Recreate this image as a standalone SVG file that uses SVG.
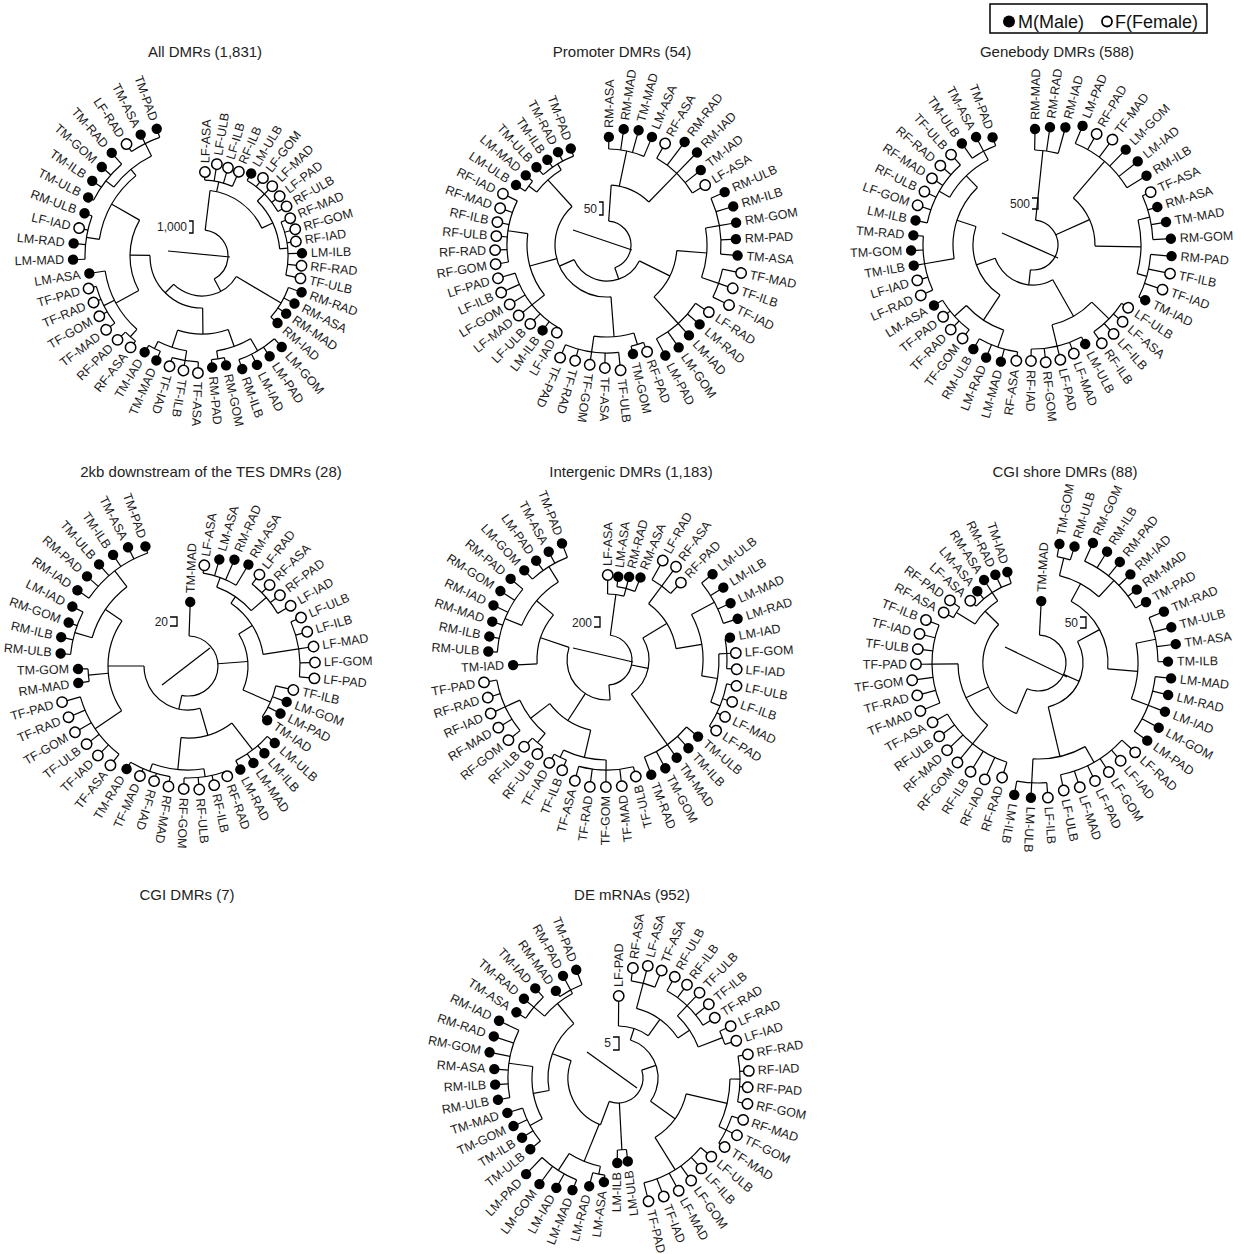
<svg xmlns="http://www.w3.org/2000/svg" width="1244" height="1254" viewBox="0 0 1244 1254">
<style>
.t{font-family:"Liberation Sans",Arial,sans-serif;font-size:15px;fill:#222;text-anchor:middle}
.sc{font-family:"Liberation Sans",Arial,sans-serif;font-size:12px;fill:#222;text-anchor:end}
.lg{font-family:"Liberation Sans",Arial,sans-serif;font-size:18px;fill:#111}
.lb text{font-family:"Liberation Sans",Arial,sans-serif;font-size:12.5px;fill:#1a1a1a;dominant-baseline:central}
.lb text.fl{text-anchor:end}
.lb circle{r:5.2px}
.m{fill:#000}
.f{fill:#fff;stroke:#000;stroke-width:1.5}
.c path,.c circle{fill:none;stroke:#000;stroke-width:1.2}
.sb{fill:none;stroke:#000;stroke-width:1.3}
</style>
<rect width="1244" height="1254" fill="#fff"/>
<g id="legend">
<rect x="990" y="4" width="217" height="29" fill="none" stroke="#000" stroke-width="1.5"/>
<circle cx="1009" cy="21.5" r="6" fill="#000"/>
<text class="lg" x="1018" y="28">M(Male)</text>
<circle cx="1107" cy="21.5" r="5" fill="#fff" stroke="#000" stroke-width="1.8"/>
<text class="lg" x="1115" y="28">F(Female)</text>
</g>
<g id="titles">
<text class="t" x="205" y="57">All DMRs (1,831)</text>
<text class="t" x="622" y="57">Promoter DMRs (54)</text>
<text class="t" x="1057" y="57">Genebody DMRs (588)</text>
<text class="t" x="211" y="477">2kb downstream of the TES DMRs (28)</text>
<text class="t" x="631" y="477">Intergenic DMRs (1,183)</text>
<text class="t" x="1065" y="477">CGI shore DMRs (88)</text>
<text class="t" x="187" y="900">CGI DMRs (7)</text>
<text class="t" x="632" y="900">DE mRNAs (952)</text>
</g>
<g id="scalebars">
<text class="sc" x="187" y="231">1,000</text><path class="sb" d="M189 221H193V233H189"/>
<text class="sc" x="597" y="213">50</text><path class="sb" d="M599 202H603V215H599"/>
<text class="sc" x="1030" y="208">500</text><path class="sb" d="M1032 198H1038V209H1032"/>
<text class="sc" x="168" y="626">20</text><path class="sb" d="M170 617H177V626H170"/>
<text class="sc" x="592" y="627">200</text><path class="sb" d="M594 617H600V627H594"/>
<text class="sc" x="1078" y="627">50</text><path class="sb" d="M1080 617H1086V628H1080"/>
<text class="sc" x="611" y="1047">5</text><path class="sb" d="M613 1037H619V1050H613"/>
</g>
<g id="connectors" class="c">
<g transform="translate(202 256)"><path d="M-34 -5L28 1"/><g transform="rotate(-88)">
<circle r="26" pathLength="360" stroke-dasharray="145 360" transform="rotate(5)"/>
<path transform="rotate(5)" d="M26 0H66"/><path transform="rotate(150)" d="M26 0H40"/>
<circle r="66" pathLength="360" stroke-dasharray="58 360" transform="rotate(5)"/>
<path transform="rotate(10.8)" d="M66 0H76"/><path transform="rotate(63)" d="M66 0H78"/>
<circle r="76" pathLength="360" stroke-dasharray="21.6 360" transform="rotate(0)"/>
<path transform="rotate(0)" d="M76 0H79.5"/><path transform="rotate(7.2)" d="M76 0H88.5"/><path transform="rotate(14.4)" d="M76 0H87.5"/><path transform="rotate(21.6)" d="M76 0H87.5"/>
<circle r="78" pathLength="360" stroke-dasharray="39.6 360" transform="rotate(43.2)"/>
<path transform="rotate(43.2)" d="M78 0H88"/><path transform="rotate(82.8)" d="M78 0H86"/>
<circle r="88" pathLength="360" stroke-dasharray="28.8 360" transform="rotate(28.8)"/>
<path transform="rotate(28.8)" d="M88 0H91.5"/><path transform="rotate(36)" d="M88 0H94.5"/><path transform="rotate(43.2)" d="M88 0H94.5"/><path transform="rotate(50.4)" d="M88 0H93.5"/><path transform="rotate(57.6)" d="M88 0H93.5"/>
<circle r="86" pathLength="360" stroke-dasharray="36 360" transform="rotate(64.8)"/>
<path transform="rotate(64.8)" d="M86 0H91.5"/><path transform="rotate(72)" d="M86 0H92.5"/><path transform="rotate(79.2)" d="M86 0H90.5"/><path transform="rotate(86.4)" d="M86 0H95.5"/><path transform="rotate(93.6)" d="M86 0H95.5"/><path transform="rotate(100.8)" d="M86 0H96.5"/>
<circle r="40" pathLength="360" stroke-dasharray="104.2 360" transform="rotate(118.8)"/>
<path transform="rotate(118.8)" d="M40 0H92"/><path transform="rotate(223)" d="M40 0H52"/>
<circle r="92" pathLength="360" stroke-dasharray="21.6 360" transform="rotate(108)"/>
<path transform="rotate(108)" d="M92 0H101.5"/><path transform="rotate(115.2)" d="M92 0H99.5"/><path transform="rotate(122.4)" d="M92 0H97.5"/><path transform="rotate(129.6)" d="M92 0H96.5"/>
<circle r="52" pathLength="360" stroke-dasharray="91.35 360" transform="rotate(177.3)"/>
<path transform="rotate(177.3)" d="M52 0H78"/><path transform="rotate(268.65)" d="M52 0H72"/>
<circle r="78" pathLength="360" stroke-dasharray="37.8 360" transform="rotate(158.4)"/>
<path transform="rotate(158.4)" d="M78 0H96"/><path transform="rotate(196.2)" d="M78 0H96"/>
<circle r="96" pathLength="360" stroke-dasharray="21.6 360" transform="rotate(147.6)"/>
<path transform="rotate(147.6)" d="M96 0H110"/><path transform="rotate(169.2)" d="M96 0H104"/>
<circle r="110" pathLength="360" stroke-dasharray="21.6 360" transform="rotate(136.8)"/>
<path transform="rotate(136.8)" d="M110 0H116.5"/><path transform="rotate(144)" d="M110 0H116.5"/><path transform="rotate(151.2)" d="M110 0H117.5"/><path transform="rotate(158.4)" d="M110 0H115.5"/>
<circle r="104" pathLength="360" stroke-dasharray="7.2 360" transform="rotate(165.6)"/>
<path transform="rotate(165.6)" d="M104 0H107.5"/><path transform="rotate(172.8)" d="M104 0H107.5"/>
<circle r="96" pathLength="360" stroke-dasharray="18 360" transform="rotate(187.2)"/>
<path transform="rotate(187.2)" d="M96 0H106"/><path transform="rotate(205.2)" d="M96 0H104"/>
<circle r="106" pathLength="360" stroke-dasharray="14.4 360" transform="rotate(180)"/>
<path transform="rotate(180)" d="M106 0H112.5"/><path transform="rotate(187.2)" d="M106 0H111.5"/><path transform="rotate(194.4)" d="M106 0H110.5"/>
<circle r="104" pathLength="360" stroke-dasharray="7.2 360" transform="rotate(201.6)"/>
<path transform="rotate(201.6)" d="M104 0H109.5"/><path transform="rotate(208.8)" d="M104 0H107.5"/>
<circle r="72" pathLength="360" stroke-dasharray="58.5 360" transform="rotate(239.4)"/>
<path transform="rotate(239.4)" d="M72 0H98"/><path transform="rotate(297.9)" d="M72 0H104"/>
<circle r="98" pathLength="360" stroke-dasharray="39.6 360" transform="rotate(219.6)"/>
<path transform="rotate(219.6)" d="M98 0H108"/><path transform="rotate(241.2)" d="M98 0H110"/><path transform="rotate(259.2)" d="M98 0H109.5"/>
<circle r="108" pathLength="360" stroke-dasharray="7.2 360" transform="rotate(216)"/>
<path transform="rotate(216)" d="M108 0H111.5"/><path transform="rotate(223.2)" d="M108 0H114.5"/>
<circle r="110" pathLength="360" stroke-dasharray="21.6 360" transform="rotate(230.4)"/>
<path transform="rotate(230.4)" d="M110 0H116.5"/><path transform="rotate(237.6)" d="M110 0H114.5"/><path transform="rotate(244.8)" d="M110 0H113.5"/><path transform="rotate(252)" d="M110 0H113.5"/>
<circle r="104" pathLength="360" stroke-dasharray="41.4 360" transform="rotate(277.2)"/>
<path transform="rotate(277.2)" d="M104 0H117"/><path transform="rotate(318.6)" d="M104 0H112"/>
<circle r="117" pathLength="360" stroke-dasharray="21.6 360" transform="rotate(266.4)"/>
<path transform="rotate(266.4)" d="M117 0H124.5"/><path transform="rotate(273.6)" d="M117 0H124.5"/><path transform="rotate(280.8)" d="M117 0H121.5"/><path transform="rotate(288)" d="M117 0H120.5"/>
<circle r="112" pathLength="360" stroke-dasharray="25.2 360" transform="rotate(306)"/>
<path transform="rotate(306)" d="M112 0H122"/><path transform="rotate(331.2)" d="M112 0H126"/>
<circle r="122" pathLength="360" stroke-dasharray="21.6 360" transform="rotate(295.2)"/>
<path transform="rotate(295.2)" d="M122 0H123.5"/><path transform="rotate(302.4)" d="M122 0H128.5"/><path transform="rotate(309.6)" d="M122 0H129.5"/><path transform="rotate(316.8)" d="M122 0H132.5"/>
<circle r="126" pathLength="360" stroke-dasharray="14.4 360" transform="rotate(324)"/>
<path transform="rotate(324)" d="M126 0H130.5"/><path transform="rotate(331.2)" d="M126 0H131.5"/><path transform="rotate(338.4)" d="M126 0H130.5"/>
</g></g>
<g transform="translate(607 245)"><path d="M-34 -15L25 5"/><g transform="rotate(-89)">
<circle r="24" pathLength="360" stroke-dasharray="157 360" transform="rotate(3)"/>
<path transform="rotate(3)" d="M24 0H60"/><path transform="rotate(160)" d="M24 0H36"/>
<circle r="60" pathLength="360" stroke-dasharray="40.2 360" transform="rotate(3)"/>
<path transform="rotate(10.8)" d="M60 0H96"/><path transform="rotate(43.2)" d="M60 0H100"/>
<circle r="96" pathLength="360" stroke-dasharray="21.6 360" transform="rotate(0)"/>
<path transform="rotate(0)" d="M96 0H103.5"/><path transform="rotate(7.2)" d="M96 0H112.5"/><path transform="rotate(14.4)" d="M96 0H114.5"/><path transform="rotate(21.6)" d="M96 0H112.5"/>
<circle r="100" pathLength="360" stroke-dasharray="28.8 360" transform="rotate(28.8)"/>
<path transform="rotate(28.8)" d="M100 0H112.5"/><path transform="rotate(36)" d="M100 0H124.5"/><path transform="rotate(43.2)" d="M100 0H124.5"/><path transform="rotate(50.4)" d="M100 0H115.5"/><path transform="rotate(57.6)" d="M100 0H110.5"/>
<circle r="36" pathLength="360" stroke-dasharray="129.8 360" transform="rotate(115.2)"/>
<path transform="rotate(115.2)" d="M36 0H70"/><path transform="rotate(245)" d="M36 0H52"/>
<circle r="70" pathLength="360" stroke-dasharray="43.2 360" transform="rotate(93.6)"/>
<path transform="rotate(93.6)" d="M70 0H100"/><path transform="rotate(136.8)" d="M70 0H106"/>
<circle r="100" pathLength="360" stroke-dasharray="28.8 360" transform="rotate(79.2)"/>
<path transform="rotate(79.2)" d="M100 0H114"/><path transform="rotate(108)" d="M100 0H118"/>
<circle r="114" pathLength="360" stroke-dasharray="28.8 360" transform="rotate(64.8)"/>
<path transform="rotate(64.8)" d="M114 0H124.5"/><path transform="rotate(72)" d="M114 0H127.5"/><path transform="rotate(79.2)" d="M114 0H126.5"/><path transform="rotate(86.4)" d="M114 0H124.5"/><path transform="rotate(93.6)" d="M114 0H126.5"/>
<circle r="118" pathLength="360" stroke-dasharray="14.4 360" transform="rotate(100.8)"/>
<path transform="rotate(100.8)" d="M118 0H132.5"/><path transform="rotate(108)" d="M118 0H128.5"/><path transform="rotate(115.2)" d="M118 0H131.5"/>
<circle r="106" pathLength="360" stroke-dasharray="28.8 360" transform="rotate(122.4)"/>
<path transform="rotate(122.4)" d="M106 0H117.5"/><path transform="rotate(129.6)" d="M106 0H117.5"/><path transform="rotate(136.8)" d="M106 0H117.5"/><path transform="rotate(144)" d="M106 0H120.5"/><path transform="rotate(151.2)" d="M106 0H120.5"/>
<circle r="52" pathLength="360" stroke-dasharray="142.2 360" transform="rotate(174.6)"/>
<path transform="rotate(174.6)" d="M52 0H92"/><path transform="rotate(253.8)" d="M52 0H80"/><path transform="rotate(316.8)" d="M52 0H88"/>
<circle r="92" pathLength="360" stroke-dasharray="25.2 360" transform="rotate(162)"/>
<path transform="rotate(162)" d="M92 0H104"/><path transform="rotate(187.2)" d="M92 0H108"/>
<circle r="104" pathLength="360" stroke-dasharray="7.2 360" transform="rotate(158.4)"/>
<path transform="rotate(158.4)" d="M104 0H109.5"/><path transform="rotate(165.6)" d="M104 0H107.5"/>
<circle r="108" pathLength="360" stroke-dasharray="28.8 360" transform="rotate(172.8)"/>
<path transform="rotate(172.8)" d="M108 0H121.5"/><path transform="rotate(180)" d="M108 0H118.5"/><path transform="rotate(187.2)" d="M108 0H116.5"/><path transform="rotate(194.4)" d="M108 0H115.5"/><path transform="rotate(201.6)" d="M108 0H117.5"/>
<circle r="80" pathLength="360" stroke-dasharray="46.8 360" transform="rotate(230.4)"/>
<path transform="rotate(230.4)" d="M80 0H96"/><path transform="rotate(277.2)" d="M80 0H100"/>
<circle r="96" pathLength="360" stroke-dasharray="43.2 360" transform="rotate(208.8)"/>
<path transform="rotate(208.8)" d="M96 0H96.5"/><path transform="rotate(216)" d="M96 0H102.5"/><path transform="rotate(223.2)" d="M96 0H105.5"/><path transform="rotate(230.4)" d="M96 0H108.5"/><path transform="rotate(237.6)" d="M96 0H109.5"/><path transform="rotate(244.8)" d="M96 0H111.5"/><path transform="rotate(252)" d="M96 0H109.5"/>
<circle r="100" pathLength="360" stroke-dasharray="36 360" transform="rotate(259.2)"/>
<path transform="rotate(259.2)" d="M100 0H108.5"/><path transform="rotate(266.4)" d="M100 0H107.5"/><path transform="rotate(273.6)" d="M100 0H106.5"/><path transform="rotate(280.8)" d="M100 0H107.5"/><path transform="rotate(288)" d="M100 0H108.5"/><path transform="rotate(295.2)" d="M100 0H111.5"/>
<circle r="88" pathLength="360" stroke-dasharray="21.6 360" transform="rotate(306)"/>
<path transform="rotate(306)" d="M88 0H98"/><path transform="rotate(327.6)" d="M88 0H95"/>
<circle r="98" pathLength="360" stroke-dasharray="7.2 360" transform="rotate(302.4)"/>
<path transform="rotate(302.4)" d="M98 0H104.5"/><path transform="rotate(309.6)" d="M98 0H102.5"/>
<circle r="95" pathLength="360" stroke-dasharray="21.6 360" transform="rotate(316.8)"/>
<path transform="rotate(316.8)" d="M95 0H100.5"/><path transform="rotate(324)" d="M95 0H99.5"/><path transform="rotate(331.2)" d="M95 0H100.5"/><path transform="rotate(338.4)" d="M95 0H98.5"/>
</g></g>
<g transform="translate(1033 245)"><path d="M-31 -12L25 13"/><g transform="rotate(-89)">
<circle r="25" pathLength="360" stroke-dasharray="180 360" transform="rotate(5)"/>
<path transform="rotate(5)" d="M25 0H95"/><path transform="rotate(64.8)" d="M25 0H62"/><path transform="rotate(185)" d="M25 0H40"/>
<circle r="95" pathLength="360" stroke-dasharray="14.4 360" transform="rotate(0)"/>
<path transform="rotate(0)" d="M95 0H111.5"/><path transform="rotate(7.2)" d="M95 0H114.5"/><path transform="rotate(14.4)" d="M95 0H117.5"/>
<circle r="62" pathLength="360" stroke-dasharray="50.4 360" transform="rotate(39.6)"/>
<path transform="rotate(39.6)" d="M62 0H110"/><path transform="rotate(90)" d="M62 0H108"/>
<circle r="110" pathLength="360" stroke-dasharray="36 360" transform="rotate(21.6)"/>
<path transform="rotate(21.6)" d="M110 0H124.5"/><path transform="rotate(28.8)" d="M110 0H123.5"/><path transform="rotate(36)" d="M110 0H127.5"/><path transform="rotate(43.2)" d="M110 0H128.5"/><path transform="rotate(50.4)" d="M110 0H129.5"/><path transform="rotate(57.6)" d="M110 0H128.5"/>
<circle r="108" pathLength="360" stroke-dasharray="28.8 360" transform="rotate(75.6)"/>
<path transform="rotate(75.6)" d="M108 0H120"/><path transform="rotate(104.4)" d="M108 0H118"/>
<circle r="120" pathLength="360" stroke-dasharray="21.6 360" transform="rotate(64.8)"/>
<path transform="rotate(64.8)" d="M120 0H124.5"/><path transform="rotate(72)" d="M120 0H125.5"/><path transform="rotate(79.2)" d="M120 0H130.5"/><path transform="rotate(86.4)" d="M120 0H133.5"/>
<circle r="118" pathLength="360" stroke-dasharray="21.6 360" transform="rotate(93.6)"/>
<path transform="rotate(93.6)" d="M118 0H134.5"/><path transform="rotate(100.8)" d="M118 0H135.5"/><path transform="rotate(108)" d="M118 0H132.5"/><path transform="rotate(115.2)" d="M118 0H120.5"/>
<circle r="40" pathLength="360" stroke-dasharray="100.3 360" transform="rotate(149.4)"/>
<path transform="rotate(149.4)" d="M40 0H82"/><path transform="rotate(249.7)" d="M40 0H60"/>
<circle r="82" pathLength="360" stroke-dasharray="32.4 360" transform="rotate(133.2)"/>
<path transform="rotate(133.2)" d="M82 0H106"/><path transform="rotate(165.6)" d="M82 0H104"/>
<circle r="106" pathLength="360" stroke-dasharray="21.6 360" transform="rotate(122.4)"/>
<path transform="rotate(122.4)" d="M106 0H109.5"/><path transform="rotate(129.6)" d="M106 0H113.5"/><path transform="rotate(136.8)" d="M106 0H115.5"/><path transform="rotate(144)" d="M106 0H115.5"/>
<circle r="104" pathLength="360" stroke-dasharray="28.8 360" transform="rotate(151.2)"/>
<path transform="rotate(151.2)" d="M104 0H107.5"/><path transform="rotate(158.4)" d="M104 0H111.5"/><path transform="rotate(165.6)" d="M104 0H113.5"/><path transform="rotate(172.8)" d="M104 0H113.5"/><path transform="rotate(180)" d="M104 0H111.5"/>
<circle r="60" pathLength="360" stroke-dasharray="74.6 360" transform="rotate(212.4)"/>
<path transform="rotate(212.4)" d="M60 0H90"/><path transform="rotate(287)" d="M60 0H80"/>
<circle r="90" pathLength="360" stroke-dasharray="28.8 360" transform="rotate(198)"/>
<path transform="rotate(198)" d="M90 0H108"/><path transform="rotate(226.8)" d="M90 0H106"/>
<circle r="108" pathLength="360" stroke-dasharray="21.6 360" transform="rotate(187.2)"/>
<path transform="rotate(187.2)" d="M108 0H112.5"/><path transform="rotate(194.4)" d="M108 0H116.5"/><path transform="rotate(201.6)" d="M108 0H117.5"/><path transform="rotate(208.8)" d="M108 0H115.5"/>
<circle r="106" pathLength="360" stroke-dasharray="21.6 360" transform="rotate(216)"/>
<path transform="rotate(216)" d="M106 0H112.5"/><path transform="rotate(223.2)" d="M106 0H113.5"/><path transform="rotate(230.4)" d="M106 0H110.5"/><path transform="rotate(237.6)" d="M106 0H111.5"/>
<circle r="80" pathLength="360" stroke-dasharray="55.8 360" transform="rotate(259.2)"/>
<path transform="rotate(259.2)" d="M80 0H110"/><path transform="rotate(315)" d="M80 0H96"/>
<circle r="110" pathLength="360" stroke-dasharray="28.8 360" transform="rotate(244.8)"/>
<path transform="rotate(244.8)" d="M110 0H118.5"/><path transform="rotate(252)" d="M110 0H116.5"/><path transform="rotate(259.2)" d="M110 0H116.5"/><path transform="rotate(266.4)" d="M110 0H117.5"/><path transform="rotate(273.6)" d="M110 0H115.5"/>
<circle r="96" pathLength="360" stroke-dasharray="32.4 360" transform="rotate(298.8)"/>
<path transform="rotate(298.8)" d="M96 0H108"/><path transform="rotate(331.2)" d="M96 0H106"/>
<circle r="108" pathLength="360" stroke-dasharray="36 360" transform="rotate(280.8)"/>
<path transform="rotate(280.8)" d="M108 0H115.5"/><path transform="rotate(288)" d="M108 0H117.5"/><path transform="rotate(295.2)" d="M108 0H116.5"/><path transform="rotate(302.4)" d="M108 0H116.5"/><path transform="rotate(309.6)" d="M108 0H117.5"/><path transform="rotate(316.8)" d="M108 0H117.5"/>
<circle r="106" pathLength="360" stroke-dasharray="14.4 360" transform="rotate(324)"/>
<path transform="rotate(324)" d="M106 0H119.5"/><path transform="rotate(331.2)" d="M106 0H117.5"/><path transform="rotate(338.4)" d="M106 0H110.5"/>
</g></g>
<g transform="translate(188 666)"><path d="M-26 19L22 -18"/><g transform="rotate(-88)">
<circle r="30" pathLength="360" stroke-dasharray="190 360" transform="rotate(0)"/>
<path transform="rotate(0)" d="M30 0H59.5"/><path transform="rotate(83.7)" d="M30 0H60"/><path transform="rotate(190)" d="M30 0H44"/>
<circle r="60" pathLength="360" stroke-dasharray="55.8 360" transform="rotate(55.8)"/>
<path transform="rotate(55.8)" d="M60 0H76"/><path transform="rotate(111.6)" d="M60 0H90"/>
<circle r="76" pathLength="360" stroke-dasharray="46.8 360" transform="rotate(32.4)"/>
<path transform="rotate(32.4)" d="M76 0H84"/><path transform="rotate(79.2)" d="M76 0H112"/>
<circle r="84" pathLength="360" stroke-dasharray="28.8 360" transform="rotate(18)"/>
<path transform="rotate(18)" d="M84 0H94"/><path transform="rotate(46.8)" d="M84 0H104"/>
<circle r="94" pathLength="360" stroke-dasharray="21.6 360" transform="rotate(7.2)"/>
<path transform="rotate(7.2)" d="M94 0H97.5"/><path transform="rotate(14.4)" d="M94 0H106.5"/><path transform="rotate(21.6)" d="M94 0H111.5"/><path transform="rotate(28.8)" d="M94 0H113.5"/>
<circle r="104" pathLength="360" stroke-dasharray="21.6 360" transform="rotate(36)"/>
<path transform="rotate(36)" d="M104 0H111.5"/><path transform="rotate(43.2)" d="M104 0H110.5"/><path transform="rotate(50.4)" d="M104 0H111.5"/><path transform="rotate(57.6)" d="M104 0H114.5"/>
<circle r="112" pathLength="360" stroke-dasharray="28.8 360" transform="rotate(64.8)"/>
<path transform="rotate(64.8)" d="M112 0H118.5"/><path transform="rotate(72)" d="M112 0H119.5"/><path transform="rotate(79.2)" d="M112 0H122.5"/><path transform="rotate(86.4)" d="M112 0H122.5"/><path transform="rotate(93.6)" d="M112 0H122.5"/>
<circle r="90" pathLength="360" stroke-dasharray="21.6 360" transform="rotate(100.8)"/>
<path transform="rotate(100.8)" d="M90 0H103.5"/><path transform="rotate(108)" d="M90 0H100.5"/><path transform="rotate(115.2)" d="M90 0H99.5"/><path transform="rotate(122.4)" d="M90 0H91.5"/>
<circle r="44" pathLength="360" stroke-dasharray="106 360" transform="rotate(162)"/>
<path transform="rotate(162)" d="M44 0H72"/><path transform="rotate(268)" d="M44 0H80"/>
<circle r="72" pathLength="360" stroke-dasharray="43.2 360" transform="rotate(140.4)"/>
<path transform="rotate(140.4)" d="M72 0H106"/><path transform="rotate(183.6)" d="M72 0H104"/>
<circle r="106" pathLength="360" stroke-dasharray="21.6 360" transform="rotate(129.6)"/>
<path transform="rotate(129.6)" d="M106 0H111.5"/><path transform="rotate(136.8)" d="M106 0H111.5"/><path transform="rotate(144)" d="M106 0H112.5"/><path transform="rotate(151.2)" d="M106 0H111.5"/>
<circle r="104" pathLength="360" stroke-dasharray="28.8 360" transform="rotate(169.2)"/>
<path transform="rotate(169.2)" d="M104 0H112"/><path transform="rotate(198)" d="M104 0H112"/>
<circle r="112" pathLength="360" stroke-dasharray="21.6 360" transform="rotate(158.4)"/>
<path transform="rotate(158.4)" d="M112 0H112.5"/><path transform="rotate(165.6)" d="M112 0H117.5"/><path transform="rotate(172.8)" d="M112 0H119.5"/><path transform="rotate(180)" d="M112 0H118.5"/>
<circle r="112" pathLength="360" stroke-dasharray="21.6 360" transform="rotate(187.2)"/>
<path transform="rotate(187.2)" d="M112 0H117.5"/><path transform="rotate(194.4)" d="M112 0H115.5"/><path transform="rotate(201.6)" d="M112 0H115.5"/><path transform="rotate(208.8)" d="M112 0H115.5"/>
<circle r="80" pathLength="360" stroke-dasharray="68.4 360" transform="rotate(234)"/>
<path transform="rotate(234)" d="M80 0H112"/><path transform="rotate(262.8)" d="M80 0H100"/><path transform="rotate(302.4)" d="M80 0H100"/>
<circle r="112" pathLength="360" stroke-dasharray="36 360" transform="rotate(216)"/>
<path transform="rotate(216)" d="M112 0H121.5"/><path transform="rotate(223.2)" d="M112 0H122.5"/><path transform="rotate(230.4)" d="M112 0H123.5"/><path transform="rotate(237.6)" d="M112 0H126.5"/><path transform="rotate(244.8)" d="M112 0H125.5"/><path transform="rotate(252)" d="M112 0H126.5"/>
<circle r="100" pathLength="360" stroke-dasharray="7.2 360" transform="rotate(259.2)"/>
<path transform="rotate(259.2)" d="M100 0H106.5"/><path transform="rotate(266.4)" d="M100 0H105.5"/>
<circle r="100" pathLength="360" stroke-dasharray="36 360" transform="rotate(284.4)"/>
<path transform="rotate(284.4)" d="M100 0H118"/><path transform="rotate(320.4)" d="M100 0H120"/>
<circle r="118" pathLength="360" stroke-dasharray="21.6 360" transform="rotate(273.6)"/>
<path transform="rotate(273.6)" d="M118 0H123.5"/><path transform="rotate(280.8)" d="M118 0H125.5"/><path transform="rotate(288)" d="M118 0H122.5"/><path transform="rotate(295.2)" d="M118 0H125.5"/>
<circle r="120" pathLength="360" stroke-dasharray="36 360" transform="rotate(302.4)"/>
<path transform="rotate(302.4)" d="M120 0H129.5"/><path transform="rotate(309.6)" d="M120 0H130.5"/><path transform="rotate(316.8)" d="M120 0H130.5"/><path transform="rotate(324)" d="M120 0H129.5"/><path transform="rotate(331.2)" d="M120 0H128.5"/><path transform="rotate(338.4)" d="M120 0H122.5"/>
</g></g>
<g transform="translate(607 660)"><path d="M-34 -12L26 2"/><g transform="rotate(-89.5)">
<circle r="25" pathLength="360" stroke-dasharray="167.8 360" transform="rotate(7.2)"/>
<path transform="rotate(7.2)" d="M25 0H66"/><path transform="rotate(101)" d="M25 0H42"/><path transform="rotate(175)" d="M25 0H40"/>
<circle r="66" pathLength="360" stroke-dasharray="14.4 360" transform="rotate(0)"/>
<path transform="rotate(0)" d="M66 0H80.5"/><path transform="rotate(14.4)" d="M66 0H74"/>
<circle r="74" pathLength="360" stroke-dasharray="14.4 360" transform="rotate(7.2)"/>
<path transform="rotate(7.2)" d="M74 0H79.5"/><path transform="rotate(14.4)" d="M74 0H81.5"/><path transform="rotate(21.6)" d="M74 0H84.5"/>
<circle r="42" pathLength="360" stroke-dasharray="86 360" transform="rotate(58)"/>
<path transform="rotate(58)" d="M42 0H70"/><path transform="rotate(144)" d="M42 0H104"/>
<circle r="70" pathLength="360" stroke-dasharray="44.1 360" transform="rotate(36)"/>
<path transform="rotate(36)" d="M70 0H92"/><path transform="rotate(80.1)" d="M70 0H96"/>
<circle r="92" pathLength="360" stroke-dasharray="14.4 360" transform="rotate(28.8)"/>
<path transform="rotate(28.8)" d="M92 0H109.5"/><path transform="rotate(36)" d="M92 0H111.5"/><path transform="rotate(43.2)" d="M92 0H102.5"/>
<circle r="96" pathLength="360" stroke-dasharray="37.8 360" transform="rotate(61.2)"/>
<path transform="rotate(61.2)" d="M96 0H122"/><path transform="rotate(99)" d="M96 0H112"/>
<circle r="122" pathLength="360" stroke-dasharray="21.6 360" transform="rotate(50.4)"/>
<path transform="rotate(50.4)" d="M122 0H131.5"/><path transform="rotate(57.6)" d="M122 0H132.5"/><path transform="rotate(64.8)" d="M122 0H131.5"/><path transform="rotate(72)" d="M122 0H132.5"/>
<circle r="112" pathLength="360" stroke-dasharray="25.2 360" transform="rotate(86.4)"/>
<path transform="rotate(86.4)" d="M112 0H120"/><path transform="rotate(111.6)" d="M112 0H122"/>
<circle r="120" pathLength="360" stroke-dasharray="14.4 360" transform="rotate(79.2)"/>
<path transform="rotate(79.2)" d="M120 0H120.5"/><path transform="rotate(86.4)" d="M120 0H124.5"/><path transform="rotate(93.6)" d="M120 0H125.5"/>
<circle r="122" pathLength="360" stroke-dasharray="21.6 360" transform="rotate(100.8)"/>
<path transform="rotate(100.8)" d="M122 0H127.5"/><path transform="rotate(108)" d="M122 0H127.5"/><path transform="rotate(115.2)" d="M122 0H126.5"/><path transform="rotate(122.4)" d="M122 0H125.5"/>
<circle r="104" pathLength="360" stroke-dasharray="28.8 360" transform="rotate(129.6)"/>
<path transform="rotate(129.6)" d="M104 0H114.5"/><path transform="rotate(136.8)" d="M104 0H115.5"/><path transform="rotate(144)" d="M104 0H115.5"/><path transform="rotate(151.2)" d="M104 0H118.5"/><path transform="rotate(158.4)" d="M104 0H118.5"/>
<circle r="40" pathLength="360" stroke-dasharray="113 360" transform="rotate(175)"/>
<path transform="rotate(212.4)" d="M40 0H72"/><path transform="rotate(288)" d="M40 0H70"/>
<circle r="72" pathLength="360" stroke-dasharray="39.6 360" transform="rotate(192.6)"/>
<path transform="rotate(192.6)" d="M72 0H100"/><path transform="rotate(232.2)" d="M72 0H96"/>
<circle r="100" pathLength="360" stroke-dasharray="25.2 360" transform="rotate(180)"/>
<path transform="rotate(180)" d="M100 0H110"/><path transform="rotate(205.2)" d="M100 0H108"/>
<circle r="110" pathLength="360" stroke-dasharray="28.8 360" transform="rotate(165.6)"/>
<path transform="rotate(165.6)" d="M110 0H115.5"/><path transform="rotate(172.8)" d="M110 0H122.5"/><path transform="rotate(180)" d="M110 0H122.5"/><path transform="rotate(187.2)" d="M110 0H123.5"/><path transform="rotate(194.4)" d="M110 0H120.5"/>
<circle r="108" pathLength="360" stroke-dasharray="7.2 360" transform="rotate(201.6)"/>
<path transform="rotate(201.6)" d="M108 0H114.5"/><path transform="rotate(208.8)" d="M108 0H113.5"/>
<circle r="96" pathLength="360" stroke-dasharray="25.2 360" transform="rotate(219.6)"/>
<path transform="rotate(219.6)" d="M96 0H108"/><path transform="rotate(244.8)" d="M96 0H112"/>
<circle r="108" pathLength="360" stroke-dasharray="7.2 360" transform="rotate(216)"/>
<path transform="rotate(216)" d="M108 0H112.5"/><path transform="rotate(223.2)" d="M108 0H115.5"/>
<circle r="112" pathLength="360" stroke-dasharray="28.8 360" transform="rotate(230.4)"/>
<path transform="rotate(230.4)" d="M112 0H122.5"/><path transform="rotate(237.6)" d="M112 0H123.5"/><path transform="rotate(244.8)" d="M112 0H123.5"/><path transform="rotate(252)" d="M112 0H120.5"/><path transform="rotate(259.2)" d="M112 0H120.5"/>
<circle r="70" pathLength="360" stroke-dasharray="43.2 360" transform="rotate(266.4)"/>
<path transform="rotate(266.4)" d="M70 0H89.5"/><path transform="rotate(309.6)" d="M70 0H92"/>
<circle r="92" pathLength="360" stroke-dasharray="36 360" transform="rotate(291.6)"/>
<path transform="rotate(291.6)" d="M92 0H110"/><path transform="rotate(327.6)" d="M92 0H110"/>
<circle r="110" pathLength="360" stroke-dasharray="36 360" transform="rotate(273.6)"/>
<path transform="rotate(273.6)" d="M110 0H114.5"/><path transform="rotate(280.8)" d="M110 0H115.5"/><path transform="rotate(288)" d="M110 0H116.5"/><path transform="rotate(295.2)" d="M110 0H121.5"/><path transform="rotate(302.4)" d="M110 0H122.5"/><path transform="rotate(309.6)" d="M110 0H121.5"/>
<circle r="110" pathLength="360" stroke-dasharray="21.6 360" transform="rotate(316.8)"/>
<path transform="rotate(316.8)" d="M110 0H117.5"/><path transform="rotate(324)" d="M110 0H117.5"/><path transform="rotate(331.2)" d="M110 0H118.5"/><path transform="rotate(338.4)" d="M110 0H120.5"/>
</g></g>
<g transform="translate(1038 663)"><path d="M-33 -16L29 14"/><g transform="rotate(-87)">
<circle r="28" pathLength="360" stroke-dasharray="200 360" transform="rotate(0)"/>
<path transform="rotate(0)" d="M28 0H57.5"/><path transform="rotate(111)" d="M28 0H45"/><path transform="rotate(200)" d="M28 0H55"/>
<circle r="45" pathLength="360" stroke-dasharray="105.3 360" transform="rotate(58.5)"/>
<path transform="rotate(58.5)" d="M45 0H70"/><path transform="rotate(163.8)" d="M45 0H96"/>
<circle r="70" pathLength="360" stroke-dasharray="66.6 360" transform="rotate(25.2)"/>
<path transform="rotate(25.2)" d="M70 0H90"/><path transform="rotate(91.8)" d="M70 0H100"/>
<circle r="90" pathLength="360" stroke-dasharray="28.8 360" transform="rotate(10.8)"/>
<path transform="rotate(10.8)" d="M90 0H108"/><path transform="rotate(39.6)" d="M90 0H112"/>
<circle r="108" pathLength="360" stroke-dasharray="7.2 360" transform="rotate(7.2)"/>
<path transform="rotate(7.2)" d="M108 0H116.5"/><path transform="rotate(14.4)" d="M108 0H117.5"/>
<circle r="112" pathLength="360" stroke-dasharray="36 360" transform="rotate(21.6)"/>
<path transform="rotate(21.6)" d="M112 0H127.5"/><path transform="rotate(28.8)" d="M112 0H126.5"/><path transform="rotate(36)" d="M112 0H125.5"/><path transform="rotate(43.2)" d="M112 0H123.5"/><path transform="rotate(50.4)" d="M112 0H118.5"/><path transform="rotate(57.6)" d="M112 0H119.5"/>
<circle r="100" pathLength="360" stroke-dasharray="32.4 360" transform="rotate(75.6)"/>
<path transform="rotate(75.6)" d="M100 0H120"/><path transform="rotate(108)" d="M100 0H118"/>
<circle r="120" pathLength="360" stroke-dasharray="21.6 360" transform="rotate(64.8)"/>
<path transform="rotate(64.8)" d="M120 0H131.5"/><path transform="rotate(72)" d="M120 0H133.5"/><path transform="rotate(79.2)" d="M120 0H134.5"/><path transform="rotate(86.4)" d="M120 0H125.5"/>
<circle r="118" pathLength="360" stroke-dasharray="28.8 360" transform="rotate(93.6)"/>
<path transform="rotate(93.6)" d="M118 0H129.5"/><path transform="rotate(100.8)" d="M118 0H129.5"/><path transform="rotate(108)" d="M118 0H131.5"/><path transform="rotate(115.2)" d="M118 0H132.5"/><path transform="rotate(122.4)" d="M118 0H129.5"/>
<circle r="96" pathLength="360" stroke-dasharray="32.4 360" transform="rotate(147.6)"/>
<path transform="rotate(147.6)" d="M96 0H114"/><path transform="rotate(180)" d="M96 0H120"/>
<circle r="114" pathLength="360" stroke-dasharray="36 360" transform="rotate(129.6)"/>
<path transform="rotate(129.6)" d="M114 0H127.5"/><path transform="rotate(136.8)" d="M114 0H123.5"/><path transform="rotate(144)" d="M114 0H125.5"/><path transform="rotate(151.2)" d="M114 0H126.5"/><path transform="rotate(158.4)" d="M114 0H126.5"/><path transform="rotate(165.6)" d="M114 0H125.5"/>
<circle r="120" pathLength="360" stroke-dasharray="14.4 360" transform="rotate(172.8)"/>
<path transform="rotate(172.8)" d="M120 0H130.5"/><path transform="rotate(180)" d="M120 0H130.5"/><path transform="rotate(187.2)" d="M120 0H129.5"/>
<circle r="55" pathLength="360" stroke-dasharray="111.4 360" transform="rotate(200)"/>
<path transform="rotate(241.2)" d="M55 0H80"/><path transform="rotate(311.4)" d="M55 0H74"/>
<circle r="80" pathLength="360" stroke-dasharray="50.4 360" transform="rotate(216)"/>
<path transform="rotate(216)" d="M80 0H104"/><path transform="rotate(266.4)" d="M80 0H106"/>
<circle r="104" pathLength="360" stroke-dasharray="43.2 360" transform="rotate(194.4)"/>
<path transform="rotate(194.4)" d="M104 0H115.5"/><path transform="rotate(201.6)" d="M104 0H123.5"/><path transform="rotate(208.8)" d="M104 0H123.5"/><path transform="rotate(216)" d="M104 0H123.5"/><path transform="rotate(223.2)" d="M104 0H121.5"/><path transform="rotate(230.4)" d="M104 0H118.5"/><path transform="rotate(237.6)" d="M104 0H116.5"/>
<circle r="106" pathLength="360" stroke-dasharray="43.2 360" transform="rotate(244.8)"/>
<path transform="rotate(244.8)" d="M106 0H122.5"/><path transform="rotate(252)" d="M106 0H120.5"/><path transform="rotate(259.2)" d="M106 0H122.5"/><path transform="rotate(266.4)" d="M106 0H117.5"/><path transform="rotate(273.6)" d="M106 0H116.5"/><path transform="rotate(280.8)" d="M106 0H117.5"/><path transform="rotate(288)" d="M106 0H115.5"/>
<circle r="74" pathLength="360" stroke-dasharray="25.2 360" transform="rotate(298.8)"/>
<path transform="rotate(298.8)" d="M74 0H96"/><path transform="rotate(324)" d="M74 0H84"/>
<circle r="96" pathLength="360" stroke-dasharray="7.2 360" transform="rotate(295.2)"/>
<path transform="rotate(295.2)" d="M96 0H102.5"/><path transform="rotate(302.4)" d="M96 0H103.5"/>
<circle r="84" pathLength="360" stroke-dasharray="28.8 360" transform="rotate(309.6)"/>
<path transform="rotate(309.6)" d="M84 0H87.5"/><path transform="rotate(316.8)" d="M84 0H89.5"/><path transform="rotate(324)" d="M84 0H94.5"/><path transform="rotate(331.2)" d="M84 0H93.5"/><path transform="rotate(338.4)" d="M84 0H91.5"/>
</g></g>
<g transform="translate(618 1078)"><path d="M-31 -26L19 10"/><g transform="rotate(-89.5)">
<circle r="25" pathLength="360" stroke-dasharray="129 360" transform="rotate(71)"/>
<path transform="rotate(71)" d="M25 0H40"/><path transform="rotate(176.4)" d="M25 0H72"/><path transform="rotate(200)" d="M25 0H50"/>
<circle r="40" pathLength="360" stroke-dasharray="107.5 360" transform="rotate(17.5)"/>
<path transform="rotate(17.5)" d="M40 0H52"/><path transform="rotate(125)" d="M40 0H70"/>
<circle r="52" pathLength="360" stroke-dasharray="35.1 360" transform="rotate(0)"/>
<path transform="rotate(0)" d="M52 0H77.5"/><path transform="rotate(35.1)" d="M52 0H72"/>
<circle r="72" pathLength="360" stroke-dasharray="41.4 360" transform="rotate(14.4)"/>
<path transform="rotate(14.4)" d="M72 0H98"/><path transform="rotate(55.8)" d="M72 0H86"/>
<circle r="98" pathLength="360" stroke-dasharray="14.4 360" transform="rotate(7.2)"/>
<path transform="rotate(7.2)" d="M98 0H106.5"/><path transform="rotate(14.4)" d="M98 0H111.5"/><path transform="rotate(21.6)" d="M98 0H111.5"/>
<circle r="86" pathLength="360" stroke-dasharray="25.2 360" transform="rotate(43.2)"/>
<path transform="rotate(43.2)" d="M86 0H100"/><path transform="rotate(68.4)" d="M86 0H112"/>
<circle r="100" pathLength="360" stroke-dasharray="28.8 360" transform="rotate(28.8)"/>
<path transform="rotate(28.8)" d="M100 0H111.5"/><path transform="rotate(36)" d="M100 0H111.5"/><path transform="rotate(43.2)" d="M100 0H113.5"/><path transform="rotate(50.4)" d="M100 0H112.5"/><path transform="rotate(57.6)" d="M100 0H109.5"/>
<circle r="112" pathLength="360" stroke-dasharray="7.2 360" transform="rotate(64.8)"/>
<path transform="rotate(64.8)" d="M112 0H119.5"/><path transform="rotate(72)" d="M112 0H119.5"/>
<circle r="70" pathLength="360" stroke-dasharray="45 360" transform="rotate(102.6)"/>
<path transform="rotate(102.6)" d="M70 0H112"/><path transform="rotate(147.6)" d="M70 0H108"/>
<circle r="112" pathLength="360" stroke-dasharray="25.2 360" transform="rotate(90)"/>
<path transform="rotate(90)" d="M112 0H122"/><path transform="rotate(115.2)" d="M112 0H120"/>
<circle r="122" pathLength="360" stroke-dasharray="21.6 360" transform="rotate(79.2)"/>
<path transform="rotate(79.2)" d="M122 0H127.5"/><path transform="rotate(86.4)" d="M122 0H126.5"/><path transform="rotate(93.6)" d="M122 0H125.5"/><path transform="rotate(100.8)" d="M122 0H127.5"/>
<circle r="120" pathLength="360" stroke-dasharray="14.4 360" transform="rotate(108)"/>
<path transform="rotate(108)" d="M120 0H127.5"/><path transform="rotate(115.2)" d="M120 0H127.5"/><path transform="rotate(122.4)" d="M120 0H122.5"/>
<circle r="108" pathLength="360" stroke-dasharray="36 360" transform="rotate(129.6)"/>
<path transform="rotate(129.6)" d="M108 0H117.5"/><path transform="rotate(136.8)" d="M108 0H118.5"/><path transform="rotate(144)" d="M108 0H121.5"/><path transform="rotate(151.2)" d="M108 0H123.5"/><path transform="rotate(158.4)" d="M108 0H122.5"/><path transform="rotate(165.6)" d="M108 0H122.5"/>
<circle r="72" pathLength="360" stroke-dasharray="7.2 360" transform="rotate(172.8)"/>
<path transform="rotate(172.8)" d="M72 0H79.5"/><path transform="rotate(180)" d="M72 0H80.5"/>
<circle r="50" pathLength="360" stroke-dasharray="89.8 360" transform="rotate(200)"/>
<path transform="rotate(201.6)" d="M50 0H90"/><path transform="rotate(289.8)" d="M50 0H70"/>
<circle r="90" pathLength="360" stroke-dasharray="21.6 360" transform="rotate(190.8)"/>
<path transform="rotate(190.8)" d="M90 0H98"/><path transform="rotate(212.4)" d="M90 0H110"/>
<circle r="98" pathLength="360" stroke-dasharray="7.2 360" transform="rotate(187.2)"/>
<path transform="rotate(187.2)" d="M98 0H100.5"/><path transform="rotate(194.4)" d="M98 0H107.5"/>
<circle r="110" pathLength="360" stroke-dasharray="21.6 360" transform="rotate(201.6)"/>
<path transform="rotate(201.6)" d="M110 0H116.5"/><path transform="rotate(208.8)" d="M110 0H121.5"/><path transform="rotate(216)" d="M110 0H127.5"/><path transform="rotate(223.2)" d="M110 0H128.5"/>
<circle r="70" pathLength="360" stroke-dasharray="61.2 360" transform="rotate(259.2)"/>
<path transform="rotate(259.2)" d="M70 0H86"/><path transform="rotate(320.4)" d="M70 0H96"/>
<circle r="86" pathLength="360" stroke-dasharray="36 360" transform="rotate(241.2)"/>
<path transform="rotate(241.2)" d="M86 0H100"/><path transform="rotate(277.2)" d="M86 0H110"/>
<circle r="100" pathLength="360" stroke-dasharray="21.6 360" transform="rotate(230.4)"/>
<path transform="rotate(230.4)" d="M100 0H108.5"/><path transform="rotate(237.6)" d="M100 0H108.5"/><path transform="rotate(244.8)" d="M100 0H110.5"/><path transform="rotate(252)" d="M100 0H111.5"/>
<circle r="110" pathLength="360" stroke-dasharray="36 360" transform="rotate(259.2)"/>
<path transform="rotate(259.2)" d="M110 0H117.5"/><path transform="rotate(266.4)" d="M110 0H118.5"/><path transform="rotate(273.6)" d="M110 0H119.5"/><path transform="rotate(280.8)" d="M110 0H126.5"/><path transform="rotate(288)" d="M110 0H126.5"/><path transform="rotate(295.2)" d="M110 0H127.5"/>
<circle r="96" pathLength="360" stroke-dasharray="21.6 360" transform="rotate(309.6)"/>
<path transform="rotate(309.6)" d="M96 0H110"/><path transform="rotate(331.2)" d="M96 0H100"/>
<circle r="110" pathLength="360" stroke-dasharray="14.4 360" transform="rotate(302.4)"/>
<path transform="rotate(302.4)" d="M110 0H116.5"/><path transform="rotate(309.6)" d="M110 0H118.5"/><path transform="rotate(316.8)" d="M110 0H117.5"/>
<circle r="100" pathLength="360" stroke-dasharray="14.4 360" transform="rotate(324)"/>
<path transform="rotate(324)" d="M100 0H102.5"/><path transform="rotate(331.2)" d="M100 0H111.5"/><path transform="rotate(338.4)" d="M100 0H111.5"/>
</g></g>
</g>
<g id="nodes" class="lb">
<g id="panel-all" transform="translate(202 256) rotate(-88)">
<g id="a-LF-ASA" transform="rotate(0)"><circle class="f" cx="84" r="5.2"/><text x="93">LF-ASA</text></g>
<g id="a-LF-ULB" transform="rotate(7.2)"><circle class="f" cx="93" r="5.2"/><text x="102">LF-ULB</text></g>
<g id="a-LF-ILB" transform="rotate(14.4)"><circle class="f" cx="92" r="5.2"/><text x="101">LF-ILB</text></g>
<g id="a-RF-ILB" transform="rotate(21.6)"><circle class="f" cx="92" r="5.2"/><text x="101">RF-ILB</text></g>
<g id="a-LM-ULB" transform="rotate(28.8)"><circle class="m" cx="96" r="5.2"/><text x="105">LM-ULB</text></g>
<g id="a-LF-GOM" transform="rotate(36)"><circle class="f" cx="99" r="5.2"/><text x="108">LF-GOM</text></g>
<g id="a-LF-MAD" transform="rotate(43.2)"><circle class="f" cx="99" r="5.2"/><text x="108">LF-MAD</text></g>
<g id="a-LF-PAD" transform="rotate(50.4)"><circle class="f" cx="98" r="5.2"/><text x="107">LF-PAD</text></g>
<g id="a-RF-ULB" transform="rotate(57.6)"><circle class="f" cx="98" r="5.2"/><text x="107">RF-ULB</text></g>
<g id="a-RF-MAD" transform="rotate(64.8)"><circle class="f" cx="96" r="5.2"/><text x="105">RF-MAD</text></g>
<g id="a-RF-GOM" transform="rotate(72)"><circle class="f" cx="97" r="5.2"/><text x="106">RF-GOM</text></g>
<g id="a-RF-IAD" transform="rotate(79.2)"><circle class="f" cx="95" r="5.2"/><text x="104">RF-IAD</text></g>
<g id="a-LM-ILB" transform="rotate(86.4)"><circle class="m" cx="100" r="5.2"/><text x="109">LM-ILB</text></g>
<g id="a-RF-RAD" transform="rotate(93.6)"><circle class="f" cx="100" r="5.2"/><text x="109">RF-RAD</text></g>
<g id="a-TF-ULB" transform="rotate(100.8)"><circle class="f" cx="101" r="5.2"/><text x="110">TF-ULB</text></g>
<g id="a-RM-RAD" transform="rotate(108)"><circle class="m" cx="106" r="5.2"/><text x="115">RM-RAD</text></g>
<g id="a-RM-ASA" transform="rotate(115.2)"><circle class="m" cx="104" r="5.2"/><text x="113">RM-ASA</text></g>
<g id="a-RM-MAD" transform="rotate(122.4)"><circle class="m" cx="102" r="5.2"/><text x="111">RM-MAD</text></g>
<g id="a-RM-IAD" transform="rotate(129.6)"><circle class="m" cx="101" r="5.2"/><text x="110">RM-IAD</text></g>
<g id="a-LM-GOM" transform="rotate(136.8)"><circle class="m" cx="121" r="5.2"/><text x="130">LM-GOM</text></g>
<g id="a-LM-PAD" transform="rotate(144)"><circle class="m" cx="121" r="5.2"/><text x="130">LM-PAD</text></g>
<g id="a-LM-IAD" transform="rotate(151.2)"><circle class="m" cx="122" r="5.2"/><text x="131">LM-IAD</text></g>
<g id="a-RM-ILB" transform="rotate(158.4)"><circle class="m" cx="120" r="5.2"/><text x="129">RM-ILB</text></g>
<g id="a-RM-GOM" transform="rotate(165.6)"><circle class="m" cx="112" r="5.2"/><text x="121">RM-GOM</text></g>
<g id="a-RM-PAD" transform="rotate(172.8)"><circle class="m" cx="112" r="5.2"/><text x="121">RM-PAD</text></g>
<g id="a-TF-ASA" transform="rotate(180)"><circle class="f" cx="117" r="5.2"/><text x="126">TF-ASA</text></g>
<g id="a-TF-ILB" transform="rotate(187.2)"><circle class="f" cx="116" r="5.2"/><text x="125">TF-ILB</text></g>
<g id="a-TF-IAD" transform="rotate(194.4)"><circle class="f" cx="115" r="5.2"/><text x="124">TF-IAD</text></g>
<g id="a-TM-MAD" transform="rotate(201.6)"><circle class="m" cx="114" r="5.2"/><text class="fl" transform="translate(123) rotate(180)">TM-MAD</text></g>
<g id="a-TM-IAD" transform="rotate(208.8)"><circle class="m" cx="112" r="5.2"/><text class="fl" transform="translate(121) rotate(180)">TM-IAD</text></g>
<g id="a-RF-ASA" transform="rotate(216)"><circle class="f" cx="116" r="5.2"/><text class="fl" transform="translate(125) rotate(180)">RF-ASA</text></g>
<g id="a-RF-PAD" transform="rotate(223.2)"><circle class="f" cx="119" r="5.2"/><text class="fl" transform="translate(128) rotate(180)">RF-PAD</text></g>
<g id="a-TF-MAD" transform="rotate(230.4)"><circle class="f" cx="121" r="5.2"/><text class="fl" transform="translate(130) rotate(180)">TF-MAD</text></g>
<g id="a-TF-GOM" transform="rotate(237.6)"><circle class="f" cx="119" r="5.2"/><text class="fl" transform="translate(128) rotate(180)">TF-GOM</text></g>
<g id="a-TF-RAD" transform="rotate(244.8)"><circle class="f" cx="118" r="5.2"/><text class="fl" transform="translate(127) rotate(180)">TF-RAD</text></g>
<g id="a-TF-PAD" transform="rotate(252)"><circle class="f" cx="118" r="5.2"/><text class="fl" transform="translate(127) rotate(180)">TF-PAD</text></g>
<g id="a-LM-ASA" transform="rotate(259.2)"><circle class="m" cx="114" r="5.2"/><text class="fl" transform="translate(123) rotate(180)">LM-ASA</text></g>
<g id="a-LM-MAD" transform="rotate(266.4)"><circle class="m" cx="129" r="5.2"/><text class="fl" transform="translate(138) rotate(180)">LM-MAD</text></g>
<g id="a-LM-RAD" transform="rotate(273.6)"><circle class="m" cx="129" r="5.2"/><text class="fl" transform="translate(138) rotate(180)">LM-RAD</text></g>
<g id="a-LF-IAD" transform="rotate(280.8)"><circle class="f" cx="126" r="5.2"/><text class="fl" transform="translate(135) rotate(180)">LF-IAD</text></g>
<g id="a-RM-ULB" transform="rotate(288)"><circle class="m" cx="125" r="5.2"/><text class="fl" transform="translate(134) rotate(180)">RM-ULB</text></g>
<g id="a-TM-ULB" transform="rotate(295.2)"><circle class="m" cx="128" r="5.2"/><text class="fl" transform="translate(137) rotate(180)">TM-ULB</text></g>
<g id="a-TM-ILB" transform="rotate(302.4)"><circle class="m" cx="133" r="5.2"/><text class="fl" transform="translate(142) rotate(180)">TM-ILB</text></g>
<g id="a-TM-GOM" transform="rotate(309.6)"><circle class="m" cx="134" r="5.2"/><text class="fl" transform="translate(143) rotate(180)">TM-GOM</text></g>
<g id="a-TM-RAD" transform="rotate(316.8)"><circle class="m" cx="137" r="5.2"/><text class="fl" transform="translate(146) rotate(180)">TM-RAD</text></g>
<g id="a-LF-RAD" transform="rotate(324)"><circle class="f" cx="135" r="5.2"/><text class="fl" transform="translate(144) rotate(180)">LF-RAD</text></g>
<g id="a-TM-ASA" transform="rotate(331.2)"><circle class="m" cx="136" r="5.2"/><text class="fl" transform="translate(145) rotate(180)">TM-ASA</text></g>
<g id="a-TM-PAD" transform="rotate(338.4)"><circle class="m" cx="135" r="5.2"/><text class="fl" transform="translate(144) rotate(180)">TM-PAD</text></g>
</g>
<g id="panel-promoter" transform="translate(607 245) rotate(-89)">
<g id="p-RM-ASA" transform="rotate(0)"><circle class="m" cx="108" r="5.2"/><text x="117">RM-ASA</text></g>
<g id="p-RM-MAD" transform="rotate(7.2)"><circle class="m" cx="117" r="5.2"/><text x="126">RM-MAD</text></g>
<g id="p-TM-MAD" transform="rotate(14.4)"><circle class="m" cx="119" r="5.2"/><text x="128">TM-MAD</text></g>
<g id="p-LM-ASA" transform="rotate(21.6)"><circle class="m" cx="117" r="5.2"/><text x="126">LM-ASA</text></g>
<g id="p-RF-ASA" transform="rotate(28.8)"><circle class="f" cx="117" r="5.2"/><text x="126">RF-ASA</text></g>
<g id="p-RM-RAD" transform="rotate(36)"><circle class="m" cx="129" r="5.2"/><text x="138">RM-RAD</text></g>
<g id="p-RM-IAD" transform="rotate(43.2)"><circle class="m" cx="129" r="5.2"/><text x="138">RM-IAD</text></g>
<g id="p-TM-IAD" transform="rotate(50.4)"><circle class="m" cx="120" r="5.2"/><text x="129">TM-IAD</text></g>
<g id="p-LF-ASA" transform="rotate(57.6)"><circle class="f" cx="115" r="5.2"/><text x="124">LF-ASA</text></g>
<g id="p-RM-ULB" transform="rotate(64.8)"><circle class="m" cx="129" r="5.2"/><text x="138">RM-ULB</text></g>
<g id="p-RM-ILB" transform="rotate(72)"><circle class="m" cx="132" r="5.2"/><text x="141">RM-ILB</text></g>
<g id="p-RM-GOM" transform="rotate(79.2)"><circle class="m" cx="131" r="5.2"/><text x="140">RM-GOM</text></g>
<g id="p-RM-PAD" transform="rotate(86.4)"><circle class="m" cx="129" r="5.2"/><text x="138">RM-PAD</text></g>
<g id="p-TM-ASA" transform="rotate(93.6)"><circle class="m" cx="131" r="5.2"/><text x="140">TM-ASA</text></g>
<g id="p-TF-MAD" transform="rotate(100.8)"><circle class="f" cx="137" r="5.2"/><text x="146">TF-MAD</text></g>
<g id="p-TF-ILB" transform="rotate(108)"><circle class="f" cx="133" r="5.2"/><text x="142">TF-ILB</text></g>
<g id="p-TF-IAD" transform="rotate(115.2)"><circle class="f" cx="136" r="5.2"/><text x="145">TF-IAD</text></g>
<g id="p-LF-RAD" transform="rotate(122.4)"><circle class="f" cx="122" r="5.2"/><text x="131">LF-RAD</text></g>
<g id="p-LM-RAD" transform="rotate(129.6)"><circle class="m" cx="122" r="5.2"/><text x="131">LM-RAD</text></g>
<g id="p-LM-IAD" transform="rotate(136.8)"><circle class="m" cx="122" r="5.2"/><text x="131">LM-IAD</text></g>
<g id="p-LM-GOM" transform="rotate(144)"><circle class="m" cx="125" r="5.2"/><text x="134">LM-GOM</text></g>
<g id="p-LM-PAD" transform="rotate(151.2)"><circle class="m" cx="125" r="5.2"/><text x="134">LM-PAD</text></g>
<g id="p-RF-PAD" transform="rotate(158.4)"><circle class="f" cx="114" r="5.2"/><text x="123">RF-PAD</text></g>
<g id="p-TM-GOM" transform="rotate(165.6)"><circle class="m" cx="112" r="5.2"/><text x="121">TM-GOM</text></g>
<g id="p-TF-ULB" transform="rotate(172.8)"><circle class="f" cx="126" r="5.2"/><text x="135">TF-ULB</text></g>
<g id="p-TF-ASA" transform="rotate(180)"><circle class="f" cx="123" r="5.2"/><text x="132">TF-ASA</text></g>
<g id="p-TF-GOM" transform="rotate(187.2)"><circle class="f" cx="121" r="5.2"/><text x="130">TF-GOM</text></g>
<g id="p-TF-RAD" transform="rotate(194.4)"><circle class="f" cx="120" r="5.2"/><text x="129">TF-RAD</text></g>
<g id="p-TF-PAD" transform="rotate(201.6)"><circle class="f" cx="122" r="5.2"/><text x="131">TF-PAD</text></g>
<g id="p-LF-IAD" transform="rotate(208.8)"><circle class="f" cx="101" r="5.2"/><text class="fl" transform="translate(110) rotate(180)">LF-IAD</text></g>
<g id="p-LM-ILB" transform="rotate(216)"><circle class="m" cx="107" r="5.2"/><text class="fl" transform="translate(116) rotate(180)">LM-ILB</text></g>
<g id="p-LF-ULB" transform="rotate(223.2)"><circle class="f" cx="110" r="5.2"/><text class="fl" transform="translate(119) rotate(180)">LF-ULB</text></g>
<g id="p-LF-MAD" transform="rotate(230.4)"><circle class="f" cx="113" r="5.2"/><text class="fl" transform="translate(122) rotate(180)">LF-MAD</text></g>
<g id="p-LF-GOM" transform="rotate(237.6)"><circle class="f" cx="114" r="5.2"/><text class="fl" transform="translate(123) rotate(180)">LF-GOM</text></g>
<g id="p-LF-ILB" transform="rotate(244.8)"><circle class="f" cx="116" r="5.2"/><text class="fl" transform="translate(125) rotate(180)">LF-ILB</text></g>
<g id="p-LF-PAD" transform="rotate(252)"><circle class="f" cx="114" r="5.2"/><text class="fl" transform="translate(123) rotate(180)">LF-PAD</text></g>
<g id="p-RF-GOM" transform="rotate(259.2)"><circle class="f" cx="113" r="5.2"/><text class="fl" transform="translate(122) rotate(180)">RF-GOM</text></g>
<g id="p-RF-RAD" transform="rotate(266.4)"><circle class="f" cx="112" r="5.2"/><text class="fl" transform="translate(121) rotate(180)">RF-RAD</text></g>
<g id="p-RF-ULB" transform="rotate(273.6)"><circle class="f" cx="111" r="5.2"/><text class="fl" transform="translate(120) rotate(180)">RF-ULB</text></g>
<g id="p-RF-ILB" transform="rotate(280.8)"><circle class="f" cx="112" r="5.2"/><text class="fl" transform="translate(121) rotate(180)">RF-ILB</text></g>
<g id="p-RF-MAD" transform="rotate(288)"><circle class="f" cx="113" r="5.2"/><text class="fl" transform="translate(122) rotate(180)">RF-MAD</text></g>
<g id="p-RF-IAD" transform="rotate(295.2)"><circle class="f" cx="116" r="5.2"/><text class="fl" transform="translate(125) rotate(180)">RF-IAD</text></g>
<g id="p-LM-ULB" transform="rotate(302.4)"><circle class="m" cx="109" r="5.2"/><text class="fl" transform="translate(118) rotate(180)">LM-ULB</text></g>
<g id="p-LM-MAD" transform="rotate(309.6)"><circle class="m" cx="107" r="5.2"/><text class="fl" transform="translate(116) rotate(180)">LM-MAD</text></g>
<g id="p-TM-ULB" transform="rotate(316.8)"><circle class="m" cx="105" r="5.2"/><text class="fl" transform="translate(114) rotate(180)">TM-ULB</text></g>
<g id="p-TM-ILB" transform="rotate(324)"><circle class="m" cx="104" r="5.2"/><text class="fl" transform="translate(113) rotate(180)">TM-ILB</text></g>
<g id="p-TM-RAD" transform="rotate(331.2)"><circle class="m" cx="105" r="5.2"/><text class="fl" transform="translate(114) rotate(180)">TM-RAD</text></g>
<g id="p-TM-PAD" transform="rotate(338.4)"><circle class="m" cx="103" r="5.2"/><text class="fl" transform="translate(112) rotate(180)">TM-PAD</text></g>
</g>
<g id="panel-genebody" transform="translate(1033 245) rotate(-89)">
<g id="g-RM-MAD" transform="rotate(0)"><circle class="m" cx="116" r="5.2"/><text x="125">RM-MAD</text></g>
<g id="g-RM-RAD" transform="rotate(7.2)"><circle class="m" cx="119" r="5.2"/><text x="128">RM-RAD</text></g>
<g id="g-RM-IAD" transform="rotate(14.4)"><circle class="m" cx="122" r="5.2"/><text x="131">RM-IAD</text></g>
<g id="g-LM-PAD" transform="rotate(21.6)"><circle class="m" cx="129" r="5.2"/><text x="138">LM-PAD</text></g>
<g id="g-RF-PAD" transform="rotate(28.8)"><circle class="f" cx="128" r="5.2"/><text x="137">RF-PAD</text></g>
<g id="g-TF-MAD" transform="rotate(36)"><circle class="f" cx="132" r="5.2"/><text x="141">TF-MAD</text></g>
<g id="g-LM-GOM" transform="rotate(43.2)"><circle class="m" cx="133" r="5.2"/><text x="142">LM-GOM</text></g>
<g id="g-LM-IAD" transform="rotate(50.4)"><circle class="m" cx="134" r="5.2"/><text x="143">LM-IAD</text></g>
<g id="g-RM-ILB" transform="rotate(57.6)"><circle class="m" cx="133" r="5.2"/><text x="142">RM-ILB</text></g>
<g id="g-TF-ASA" transform="rotate(64.8)"><circle class="f" cx="129" r="5.2"/><text x="138">TF-ASA</text></g>
<g id="g-RM-ASA" transform="rotate(72)"><circle class="m" cx="130" r="5.2"/><text x="139">RM-ASA</text></g>
<g id="g-TM-MAD" transform="rotate(79.2)"><circle class="m" cx="135" r="5.2"/><text x="144">TM-MAD</text></g>
<g id="g-RM-GOM" transform="rotate(86.4)"><circle class="m" cx="138" r="5.2"/><text x="147">RM-GOM</text></g>
<g id="g-RM-PAD" transform="rotate(93.6)"><circle class="m" cx="139" r="5.2"/><text x="148">RM-PAD</text></g>
<g id="g-TF-ILB" transform="rotate(100.8)"><circle class="f" cx="140" r="5.2"/><text x="149">TF-ILB</text></g>
<g id="g-TF-IAD" transform="rotate(108)"><circle class="f" cx="137" r="5.2"/><text x="146">TF-IAD</text></g>
<g id="g-TM-IAD" transform="rotate(115.2)"><circle class="m" cx="125" r="5.2"/><text x="134">TM-IAD</text></g>
<g id="g-LF-ULB" transform="rotate(122.4)"><circle class="f" cx="114" r="5.2"/><text x="123">LF-ULB</text></g>
<g id="g-LF-ASA" transform="rotate(129.6)"><circle class="f" cx="118" r="5.2"/><text x="127">LF-ASA</text></g>
<g id="g-LF-ILB" transform="rotate(136.8)"><circle class="f" cx="120" r="5.2"/><text x="129">LF-ILB</text></g>
<g id="g-RF-ILB" transform="rotate(144)"><circle class="f" cx="120" r="5.2"/><text x="129">RF-ILB</text></g>
<g id="g-LM-ULB" transform="rotate(151.2)"><circle class="m" cx="112" r="5.2"/><text x="121">LM-ULB</text></g>
<g id="g-LF-MAD" transform="rotate(158.4)"><circle class="f" cx="116" r="5.2"/><text x="125">LF-MAD</text></g>
<g id="g-LF-PAD" transform="rotate(165.6)"><circle class="f" cx="118" r="5.2"/><text x="127">LF-PAD</text></g>
<g id="g-RF-GOM" transform="rotate(172.8)"><circle class="f" cx="118" r="5.2"/><text x="127">RF-GOM</text></g>
<g id="g-RF-IAD" transform="rotate(180)"><circle class="f" cx="116" r="5.2"/><text x="125">RF-IAD</text></g>
<g id="g-RF-ASA" transform="rotate(187.2)"><circle class="f" cx="117" r="5.2"/><text class="fl" transform="translate(126) rotate(180)">RF-ASA</text></g>
<g id="g-LM-MAD" transform="rotate(194.4)"><circle class="m" cx="121" r="5.2"/><text class="fl" transform="translate(130) rotate(180)">LM-MAD</text></g>
<g id="g-LM-RAD" transform="rotate(201.6)"><circle class="m" cx="122" r="5.2"/><text class="fl" transform="translate(131) rotate(180)">LM-RAD</text></g>
<g id="g-RM-ULB" transform="rotate(208.8)"><circle class="m" cx="120" r="5.2"/><text class="fl" transform="translate(129) rotate(180)">RM-ULB</text></g>
<g id="g-TF-GOM" transform="rotate(216)"><circle class="f" cx="117" r="5.2"/><text class="fl" transform="translate(126) rotate(180)">TF-GOM</text></g>
<g id="g-TF-RAD" transform="rotate(223.2)"><circle class="f" cx="118" r="5.2"/><text class="fl" transform="translate(127) rotate(180)">TF-RAD</text></g>
<g id="g-TF-PAD" transform="rotate(230.4)"><circle class="f" cx="115" r="5.2"/><text class="fl" transform="translate(124) rotate(180)">TF-PAD</text></g>
<g id="g-LM-ASA" transform="rotate(237.6)"><circle class="m" cx="116" r="5.2"/><text class="fl" transform="translate(125) rotate(180)">LM-ASA</text></g>
<g id="g-LF-RAD" transform="rotate(244.8)"><circle class="f" cx="123" r="5.2"/><text class="fl" transform="translate(132) rotate(180)">LF-RAD</text></g>
<g id="g-LF-IAD" transform="rotate(252)"><circle class="f" cx="121" r="5.2"/><text class="fl" transform="translate(130) rotate(180)">LF-IAD</text></g>
<g id="g-TM-ILB" transform="rotate(259.2)"><circle class="m" cx="121" r="5.2"/><text class="fl" transform="translate(130) rotate(180)">TM-ILB</text></g>
<g id="g-TM-GOM" transform="rotate(266.4)"><circle class="m" cx="122" r="5.2"/><text class="fl" transform="translate(131) rotate(180)">TM-GOM</text></g>
<g id="g-TM-RAD" transform="rotate(273.6)"><circle class="m" cx="120" r="5.2"/><text class="fl" transform="translate(129) rotate(180)">TM-RAD</text></g>
<g id="g-LM-ILB" transform="rotate(280.8)"><circle class="m" cx="120" r="5.2"/><text class="fl" transform="translate(129) rotate(180)">LM-ILB</text></g>
<g id="g-LF-GOM" transform="rotate(288)"><circle class="f" cx="122" r="5.2"/><text class="fl" transform="translate(131) rotate(180)">LF-GOM</text></g>
<g id="g-RF-ULB" transform="rotate(295.2)"><circle class="f" cx="121" r="5.2"/><text class="fl" transform="translate(130) rotate(180)">RF-ULB</text></g>
<g id="g-RF-MAD" transform="rotate(302.4)"><circle class="f" cx="121" r="5.2"/><text class="fl" transform="translate(130) rotate(180)">RF-MAD</text></g>
<g id="g-RF-RAD" transform="rotate(309.6)"><circle class="f" cx="122" r="5.2"/><text class="fl" transform="translate(131) rotate(180)">RF-RAD</text></g>
<g id="g-TF-ULB" transform="rotate(316.8)"><circle class="f" cx="122" r="5.2"/><text class="fl" transform="translate(131) rotate(180)">TF-ULB</text></g>
<g id="g-TM-ULB" transform="rotate(324)"><circle class="m" cx="124" r="5.2"/><text class="fl" transform="translate(133) rotate(180)">TM-ULB</text></g>
<g id="g-TM-ASA" transform="rotate(331.2)"><circle class="m" cx="122" r="5.2"/><text class="fl" transform="translate(131) rotate(180)">TM-ASA</text></g>
<g id="g-TM-PAD" transform="rotate(338.4)"><circle class="m" cx="115" r="5.2"/><text class="fl" transform="translate(124) rotate(180)">TM-PAD</text></g>
</g>
<g id="panel-tes" transform="translate(188 666) rotate(-88)">
<g id="d-TM-MAD" transform="rotate(0)"><circle class="m" cx="64" r="5.2"/><text x="73">TM-MAD</text></g>
<g id="d-LF-ASA" transform="rotate(7.2)"><circle class="f" cx="102" r="5.2"/><text x="111">LF-ASA</text></g>
<g id="d-LM-ASA" transform="rotate(14.4)"><circle class="m" cx="111" r="5.2"/><text x="120">LM-ASA</text></g>
<g id="d-RM-RAD" transform="rotate(21.6)"><circle class="m" cx="116" r="5.2"/><text x="125">RM-RAD</text></g>
<g id="d-RM-ASA" transform="rotate(28.8)"><circle class="m" cx="118" r="5.2"/><text x="127">RM-ASA</text></g>
<g id="d-LF-RAD" transform="rotate(36)"><circle class="f" cx="116" r="5.2"/><text x="125">LF-RAD</text></g>
<g id="d-RF-ASA" transform="rotate(43.2)"><circle class="f" cx="115" r="5.2"/><text x="124">RF-ASA</text></g>
<g id="d-RF-PAD" transform="rotate(50.4)"><circle class="f" cx="116" r="5.2"/><text x="125">RF-PAD</text></g>
<g id="d-LF-IAD" transform="rotate(57.6)"><circle class="f" cx="119" r="5.2"/><text x="128">LF-IAD</text></g>
<g id="d-LF-ULB" transform="rotate(64.8)"><circle class="f" cx="123" r="5.2"/><text x="132">LF-ULB</text></g>
<g id="d-LF-ILB" transform="rotate(72)"><circle class="f" cx="124" r="5.2"/><text x="133">LF-ILB</text></g>
<g id="d-LF-MAD" transform="rotate(79.2)"><circle class="f" cx="127" r="5.2"/><text x="136">LF-MAD</text></g>
<g id="d-LF-GOM" transform="rotate(86.4)"><circle class="f" cx="127" r="5.2"/><text x="136">LF-GOM</text></g>
<g id="d-LF-PAD" transform="rotate(93.6)"><circle class="f" cx="127" r="5.2"/><text x="136">LF-PAD</text></g>
<g id="d-TF-ILB" transform="rotate(100.8)"><circle class="f" cx="108" r="5.2"/><text x="117">TF-ILB</text></g>
<g id="d-LM-GOM" transform="rotate(108)"><circle class="m" cx="105" r="5.2"/><text x="114">LM-GOM</text></g>
<g id="d-LM-PAD" transform="rotate(115.2)"><circle class="m" cx="104" r="5.2"/><text x="113">LM-PAD</text></g>
<g id="d-TM-IAD" transform="rotate(122.4)"><circle class="m" cx="96" r="5.2"/><text x="105">TM-IAD</text></g>
<g id="d-LM-ULB" transform="rotate(129.6)"><circle class="m" cx="116" r="5.2"/><text x="125">LM-ULB</text></g>
<g id="d-LM-ILB" transform="rotate(136.8)"><circle class="m" cx="116" r="5.2"/><text x="125">LM-ILB</text></g>
<g id="d-LM-MAD" transform="rotate(144)"><circle class="m" cx="117" r="5.2"/><text x="126">LM-MAD</text></g>
<g id="d-LM-RAD" transform="rotate(151.2)"><circle class="m" cx="116" r="5.2"/><text x="125">LM-RAD</text></g>
<g id="d-RF-RAD" transform="rotate(158.4)"><circle class="f" cx="117" r="5.2"/><text x="126">RF-RAD</text></g>
<g id="d-RF-ILB" transform="rotate(165.6)"><circle class="f" cx="122" r="5.2"/><text x="131">RF-ILB</text></g>
<g id="d-RF-ULB" transform="rotate(172.8)"><circle class="f" cx="124" r="5.2"/><text x="133">RF-ULB</text></g>
<g id="d-RF-GOM" transform="rotate(180)"><circle class="f" cx="123" r="5.2"/><text x="132">RF-GOM</text></g>
<g id="d-RF-MAD" transform="rotate(187.2)"><circle class="f" cx="122" r="5.2"/><text x="131">RF-MAD</text></g>
<g id="d-RF-IAD" transform="rotate(194.4)"><circle class="f" cx="120" r="5.2"/><text x="129">RF-IAD</text></g>
<g id="d-TF-MAD" transform="rotate(201.6)"><circle class="f" cx="120" r="5.2"/><text class="fl" transform="translate(129) rotate(180)">TF-MAD</text></g>
<g id="d-TM-RAD" transform="rotate(208.8)"><circle class="m" cx="120" r="5.2"/><text class="fl" transform="translate(129) rotate(180)">TM-RAD</text></g>
<g id="d-TF-ASA" transform="rotate(216)"><circle class="f" cx="126" r="5.2"/><text class="fl" transform="translate(135) rotate(180)">TF-ASA</text></g>
<g id="d-TF-IAD" transform="rotate(223.2)"><circle class="f" cx="127" r="5.2"/><text class="fl" transform="translate(136) rotate(180)">TF-IAD</text></g>
<g id="d-TF-ULB" transform="rotate(230.4)"><circle class="f" cx="128" r="5.2"/><text class="fl" transform="translate(137) rotate(180)">TF-ULB</text></g>
<g id="d-TF-GOM" transform="rotate(237.6)"><circle class="f" cx="131" r="5.2"/><text class="fl" transform="translate(140) rotate(180)">TF-GOM</text></g>
<g id="d-TF-RAD" transform="rotate(244.8)"><circle class="f" cx="130" r="5.2"/><text class="fl" transform="translate(139) rotate(180)">TF-RAD</text></g>
<g id="d-TF-PAD" transform="rotate(252)"><circle class="f" cx="131" r="5.2"/><text class="fl" transform="translate(140) rotate(180)">TF-PAD</text></g>
<g id="d-RM-MAD" transform="rotate(259.2)"><circle class="m" cx="111" r="5.2"/><text class="fl" transform="translate(120) rotate(180)">RM-MAD</text></g>
<g id="d-TM-GOM" transform="rotate(266.4)"><circle class="m" cx="110" r="5.2"/><text class="fl" transform="translate(119) rotate(180)">TM-GOM</text></g>
<g id="d-RM-ULB" transform="rotate(273.6)"><circle class="m" cx="128" r="5.2"/><text class="fl" transform="translate(137) rotate(180)">RM-ULB</text></g>
<g id="d-RM-ILB" transform="rotate(280.8)"><circle class="m" cx="130" r="5.2"/><text class="fl" transform="translate(139) rotate(180)">RM-ILB</text></g>
<g id="d-RM-GOM" transform="rotate(288)"><circle class="m" cx="127" r="5.2"/><text class="fl" transform="translate(136) rotate(180)">RM-GOM</text></g>
<g id="d-LM-IAD" transform="rotate(295.2)"><circle class="m" cx="130" r="5.2"/><text class="fl" transform="translate(139) rotate(180)">LM-IAD</text></g>
<g id="d-RM-IAD" transform="rotate(302.4)"><circle class="m" cx="134" r="5.2"/><text class="fl" transform="translate(143) rotate(180)">RM-IAD</text></g>
<g id="d-RM-PAD" transform="rotate(309.6)"><circle class="m" cx="135" r="5.2"/><text class="fl" transform="translate(144) rotate(180)">RM-PAD</text></g>
<g id="d-TM-ULB" transform="rotate(316.8)"><circle class="m" cx="135" r="5.2"/><text class="fl" transform="translate(144) rotate(180)">TM-ULB</text></g>
<g id="d-TM-ILB" transform="rotate(324)"><circle class="m" cx="134" r="5.2"/><text class="fl" transform="translate(143) rotate(180)">TM-ILB</text></g>
<g id="d-TM-ASA" transform="rotate(331.2)"><circle class="m" cx="133" r="5.2"/><text class="fl" transform="translate(142) rotate(180)">TM-ASA</text></g>
<g id="d-TM-PAD" transform="rotate(338.4)"><circle class="m" cx="127" r="5.2"/><text class="fl" transform="translate(136) rotate(180)">TM-PAD</text></g>
</g>
<g id="panel-intergenic" transform="translate(607 660) rotate(-89.5)">
<g id="i-LF-ASA" transform="rotate(0)"><circle class="f" cx="85" r="5.2"/><text x="94">LF-ASA</text></g>
<g id="i-LM-ASA" transform="rotate(7.2)"><circle class="m" cx="84" r="5.2"/><text x="93">LM-ASA</text></g>
<g id="i-RM-RAD" transform="rotate(14.4)"><circle class="m" cx="86" r="5.2"/><text x="95">RM-RAD</text></g>
<g id="i-RM-ASA" transform="rotate(21.6)"><circle class="m" cx="89" r="5.2"/><text x="98">RM-ASA</text></g>
<g id="i-LF-RAD" transform="rotate(28.8)"><circle class="f" cx="114" r="5.2"/><text x="123">LF-RAD</text></g>
<g id="i-RF-ASA" transform="rotate(36)"><circle class="f" cx="116" r="5.2"/><text x="125">RF-ASA</text></g>
<g id="i-RF-PAD" transform="rotate(43.2)"><circle class="f" cx="107" r="5.2"/><text x="116">RF-PAD</text></g>
<g id="i-LM-ULB" transform="rotate(50.4)"><circle class="m" cx="136" r="5.2"/><text x="145">LM-ULB</text></g>
<g id="i-LM-ILB" transform="rotate(57.6)"><circle class="m" cx="137" r="5.2"/><text x="146">LM-ILB</text></g>
<g id="i-LM-MAD" transform="rotate(64.8)"><circle class="m" cx="136" r="5.2"/><text x="145">LM-MAD</text></g>
<g id="i-LM-RAD" transform="rotate(72)"><circle class="m" cx="137" r="5.2"/><text x="146">LM-RAD</text></g>
<g id="i-LM-IAD" transform="rotate(79.2)"><circle class="m" cx="125" r="5.2"/><text x="134">LM-IAD</text></g>
<g id="i-LF-GOM" transform="rotate(86.4)"><circle class="f" cx="129" r="5.2"/><text x="138">LF-GOM</text></g>
<g id="i-LF-IAD" transform="rotate(93.6)"><circle class="f" cx="130" r="5.2"/><text x="139">LF-IAD</text></g>
<g id="i-LF-ULB" transform="rotate(100.8)"><circle class="f" cx="132" r="5.2"/><text x="141">LF-ULB</text></g>
<g id="i-LF-ILB" transform="rotate(108)"><circle class="f" cx="132" r="5.2"/><text x="141">LF-ILB</text></g>
<g id="i-LF-MAD" transform="rotate(115.2)"><circle class="f" cx="131" r="5.2"/><text x="140">LF-MAD</text></g>
<g id="i-LF-PAD" transform="rotate(122.4)"><circle class="f" cx="130" r="5.2"/><text x="139">LF-PAD</text></g>
<g id="i-TM-ULB" transform="rotate(129.6)"><circle class="m" cx="119" r="5.2"/><text x="128">TM-ULB</text></g>
<g id="i-TM-ILB" transform="rotate(136.8)"><circle class="m" cx="120" r="5.2"/><text x="129">TM-ILB</text></g>
<g id="i-TM-MAD" transform="rotate(144)"><circle class="m" cx="120" r="5.2"/><text x="129">TM-MAD</text></g>
<g id="i-TM-GOM" transform="rotate(151.2)"><circle class="m" cx="123" r="5.2"/><text x="132">TM-GOM</text></g>
<g id="i-TM-RAD" transform="rotate(158.4)"><circle class="m" cx="123" r="5.2"/><text x="132">TM-RAD</text></g>
<g id="i-TF-ULB" transform="rotate(165.6)"><circle class="f" cx="120" r="5.2"/><text class="fl" transform="translate(129) rotate(180)">TF-ULB</text></g>
<g id="i-TF-MAD" transform="rotate(172.8)"><circle class="f" cx="127" r="5.2"/><text class="fl" transform="translate(136) rotate(180)">TF-MAD</text></g>
<g id="i-TF-GOM" transform="rotate(180)"><circle class="f" cx="127" r="5.2"/><text class="fl" transform="translate(136) rotate(180)">TF-GOM</text></g>
<g id="i-TF-RAD" transform="rotate(187.2)"><circle class="f" cx="128" r="5.2"/><text class="fl" transform="translate(137) rotate(180)">TF-RAD</text></g>
<g id="i-TF-ASA" transform="rotate(194.4)"><circle class="f" cx="125" r="5.2"/><text class="fl" transform="translate(134) rotate(180)">TF-ASA</text></g>
<g id="i-TF-ILB" transform="rotate(201.6)"><circle class="f" cx="119" r="5.2"/><text class="fl" transform="translate(128) rotate(180)">TF-ILB</text></g>
<g id="i-TF-IAD" transform="rotate(208.8)"><circle class="f" cx="118" r="5.2"/><text class="fl" transform="translate(127) rotate(180)">TF-IAD</text></g>
<g id="i-RF-ULB" transform="rotate(216)"><circle class="f" cx="117" r="5.2"/><text class="fl" transform="translate(126) rotate(180)">RF-ULB</text></g>
<g id="i-RF-ILB" transform="rotate(223.2)"><circle class="f" cx="120" r="5.2"/><text class="fl" transform="translate(129) rotate(180)">RF-ILB</text></g>
<g id="i-RF-GOM" transform="rotate(230.4)"><circle class="f" cx="127" r="5.2"/><text class="fl" transform="translate(136) rotate(180)">RF-GOM</text></g>
<g id="i-RF-MAD" transform="rotate(237.6)"><circle class="f" cx="128" r="5.2"/><text class="fl" transform="translate(137) rotate(180)">RF-MAD</text></g>
<g id="i-RF-IAD" transform="rotate(244.8)"><circle class="f" cx="128" r="5.2"/><text class="fl" transform="translate(137) rotate(180)">RF-IAD</text></g>
<g id="i-RF-RAD" transform="rotate(252)"><circle class="f" cx="125" r="5.2"/><text class="fl" transform="translate(134) rotate(180)">RF-RAD</text></g>
<g id="i-TF-PAD" transform="rotate(259.2)"><circle class="f" cx="125" r="5.2"/><text class="fl" transform="translate(134) rotate(180)">TF-PAD</text></g>
<g id="i-TM-IAD" transform="rotate(266.4)"><circle class="m" cx="94" r="5.2"/><text class="fl" transform="translate(103) rotate(180)">TM-IAD</text></g>
<g id="i-RM-ULB" transform="rotate(273.6)"><circle class="m" cx="119" r="5.2"/><text class="fl" transform="translate(128) rotate(180)">RM-ULB</text></g>
<g id="i-RM-ILB" transform="rotate(280.8)"><circle class="m" cx="120" r="5.2"/><text class="fl" transform="translate(129) rotate(180)">RM-ILB</text></g>
<g id="i-RM-MAD" transform="rotate(288)"><circle class="m" cx="121" r="5.2"/><text class="fl" transform="translate(130) rotate(180)">RM-MAD</text></g>
<g id="i-RM-IAD" transform="rotate(295.2)"><circle class="m" cx="126" r="5.2"/><text class="fl" transform="translate(135) rotate(180)">RM-IAD</text></g>
<g id="i-RM-GOM" transform="rotate(302.4)"><circle class="m" cx="127" r="5.2"/><text class="fl" transform="translate(136) rotate(180)">RM-GOM</text></g>
<g id="i-RM-PAD" transform="rotate(309.6)"><circle class="m" cx="126" r="5.2"/><text class="fl" transform="translate(135) rotate(180)">RM-PAD</text></g>
<g id="i-LM-GOM" transform="rotate(316.8)"><circle class="m" cx="122" r="5.2"/><text class="fl" transform="translate(131) rotate(180)">LM-GOM</text></g>
<g id="i-LM-PAD" transform="rotate(324)"><circle class="m" cx="122" r="5.2"/><text class="fl" transform="translate(131) rotate(180)">LM-PAD</text></g>
<g id="i-TM-ASA" transform="rotate(331.2)"><circle class="m" cx="123" r="5.2"/><text class="fl" transform="translate(132) rotate(180)">TM-ASA</text></g>
<g id="i-TM-PAD" transform="rotate(338.4)"><circle class="m" cx="125" r="5.2"/><text class="fl" transform="translate(134) rotate(180)">TM-PAD</text></g>
</g>
<g id="panel-shore" transform="translate(1038 663) rotate(-87)">
<g id="s-TM-MAD" transform="rotate(0)"><circle class="m" cx="62" r="5.2"/><text x="71">TM-MAD</text></g>
<g id="s-TM-GOM" transform="rotate(7.2)"><circle class="m" cx="121" r="5.2"/><text x="130">TM-GOM</text></g>
<g id="s-RM-ULB" transform="rotate(14.4)"><circle class="m" cx="122" r="5.2"/><text x="131">RM-ULB</text></g>
<g id="s-RM-GOM" transform="rotate(21.6)"><circle class="m" cx="132" r="5.2"/><text x="141">RM-GOM</text></g>
<g id="s-RM-ILB" transform="rotate(28.8)"><circle class="m" cx="131" r="5.2"/><text x="140">RM-ILB</text></g>
<g id="s-RM-PAD" transform="rotate(36)"><circle class="m" cx="130" r="5.2"/><text x="139">RM-PAD</text></g>
<g id="s-RM-IAD" transform="rotate(43.2)"><circle class="m" cx="128" r="5.2"/><text x="137">RM-IAD</text></g>
<g id="s-RM-MAD" transform="rotate(50.4)"><circle class="m" cx="123" r="5.2"/><text x="132">RM-MAD</text></g>
<g id="s-TM-PAD" transform="rotate(57.6)"><circle class="m" cx="124" r="5.2"/><text x="133">TM-PAD</text></g>
<g id="s-TM-RAD" transform="rotate(64.8)"><circle class="m" cx="136" r="5.2"/><text x="145">TM-RAD</text></g>
<g id="s-TM-ULB" transform="rotate(72)"><circle class="m" cx="138" r="5.2"/><text x="147">TM-ULB</text></g>
<g id="s-TM-ASA" transform="rotate(79.2)"><circle class="m" cx="139" r="5.2"/><text x="148">TM-ASA</text></g>
<g id="s-TM-ILB" transform="rotate(86.4)"><circle class="m" cx="130" r="5.2"/><text x="139">TM-ILB</text></g>
<g id="s-LM-MAD" transform="rotate(93.6)"><circle class="m" cx="134" r="5.2"/><text x="143">LM-MAD</text></g>
<g id="s-LM-RAD" transform="rotate(100.8)"><circle class="m" cx="134" r="5.2"/><text x="143">LM-RAD</text></g>
<g id="s-LM-IAD" transform="rotate(108)"><circle class="m" cx="136" r="5.2"/><text x="145">LM-IAD</text></g>
<g id="s-LM-GOM" transform="rotate(115.2)"><circle class="m" cx="137" r="5.2"/><text x="146">LM-GOM</text></g>
<g id="s-LM-PAD" transform="rotate(122.4)"><circle class="m" cx="134" r="5.2"/><text x="143">LM-PAD</text></g>
<g id="s-LF-RAD" transform="rotate(129.6)"><circle class="f" cx="132" r="5.2"/><text x="141">LF-RAD</text></g>
<g id="s-LF-IAD" transform="rotate(136.8)"><circle class="f" cx="128" r="5.2"/><text x="137">LF-IAD</text></g>
<g id="s-LF-GOM" transform="rotate(144)"><circle class="f" cx="130" r="5.2"/><text x="139">LF-GOM</text></g>
<g id="s-LF-PAD" transform="rotate(151.2)"><circle class="f" cx="131" r="5.2"/><text x="140">LF-PAD</text></g>
<g id="s-LF-MAD" transform="rotate(158.4)"><circle class="f" cx="131" r="5.2"/><text x="140">LF-MAD</text></g>
<g id="s-LF-ULB" transform="rotate(165.6)"><circle class="f" cx="130" r="5.2"/><text x="139">LF-ULB</text></g>
<g id="s-LF-ILB" transform="rotate(172.8)"><circle class="f" cx="135" r="5.2"/><text x="144">LF-ILB</text></g>
<g id="s-LM-ULB" transform="rotate(180)"><circle class="m" cx="135" r="5.2"/><text x="144">LM-ULB</text></g>
<g id="s-LM-ILB" transform="rotate(187.2)"><circle class="m" cx="134" r="5.2"/><text x="143">LM-ILB</text></g>
<g id="s-RF-RAD" transform="rotate(194.4)"><circle class="f" cx="120" r="5.2"/><text class="fl" transform="translate(129) rotate(180)">RF-RAD</text></g>
<g id="s-RF-IAD" transform="rotate(201.6)"><circle class="f" cx="128" r="5.2"/><text class="fl" transform="translate(137) rotate(180)">RF-IAD</text></g>
<g id="s-RF-ILB" transform="rotate(208.8)"><circle class="f" cx="128" r="5.2"/><text class="fl" transform="translate(137) rotate(180)">RF-ILB</text></g>
<g id="s-RF-GOM" transform="rotate(216)"><circle class="f" cx="128" r="5.2"/><text class="fl" transform="translate(137) rotate(180)">RF-GOM</text></g>
<g id="s-RF-MAD" transform="rotate(223.2)"><circle class="f" cx="126" r="5.2"/><text class="fl" transform="translate(135) rotate(180)">RF-MAD</text></g>
<g id="s-RF-ULB" transform="rotate(230.4)"><circle class="f" cx="123" r="5.2"/><text class="fl" transform="translate(132) rotate(180)">RF-ULB</text></g>
<g id="s-TF-ASA" transform="rotate(237.6)"><circle class="f" cx="121" r="5.2"/><text class="fl" transform="translate(130) rotate(180)">TF-ASA</text></g>
<g id="s-TF-MAD" transform="rotate(244.8)"><circle class="f" cx="127" r="5.2"/><text class="fl" transform="translate(136) rotate(180)">TF-MAD</text></g>
<g id="s-TF-RAD" transform="rotate(252)"><circle class="f" cx="125" r="5.2"/><text class="fl" transform="translate(134) rotate(180)">TF-RAD</text></g>
<g id="s-TF-GOM" transform="rotate(259.2)"><circle class="f" cx="127" r="5.2"/><text class="fl" transform="translate(136) rotate(180)">TF-GOM</text></g>
<g id="s-TF-PAD" transform="rotate(266.4)"><circle class="f" cx="122" r="5.2"/><text class="fl" transform="translate(131) rotate(180)">TF-PAD</text></g>
<g id="s-TF-ULB" transform="rotate(273.6)"><circle class="f" cx="121" r="5.2"/><text class="fl" transform="translate(130) rotate(180)">TF-ULB</text></g>
<g id="s-TF-IAD" transform="rotate(280.8)"><circle class="f" cx="122" r="5.2"/><text class="fl" transform="translate(131) rotate(180)">TF-IAD</text></g>
<g id="s-TF-ILB" transform="rotate(288)"><circle class="f" cx="120" r="5.2"/><text class="fl" transform="translate(129) rotate(180)">TF-ILB</text></g>
<g id="s-RF-ASA" transform="rotate(295.2)"><circle class="f" cx="107" r="5.2"/><text class="fl" transform="translate(116) rotate(180)">RF-ASA</text></g>
<g id="s-RF-PAD" transform="rotate(302.4)"><circle class="f" cx="108" r="5.2"/><text class="fl" transform="translate(117) rotate(180)">RF-PAD</text></g>
<g id="s-LF-ASA" transform="rotate(309.6)"><circle class="f" cx="92" r="5.2"/><text class="fl" transform="translate(101) rotate(180)">LF-ASA</text></g>
<g id="s-LM-ASA" transform="rotate(316.8)"><circle class="m" cx="94" r="5.2"/><text class="fl" transform="translate(103) rotate(180)">LM-ASA</text></g>
<g id="s-RM-ASA" transform="rotate(324)"><circle class="m" cx="99" r="5.2"/><text class="fl" transform="translate(108) rotate(180)">RM-ASA</text></g>
<g id="s-RM-RAD" transform="rotate(331.2)"><circle class="m" cx="98" r="5.2"/><text class="fl" transform="translate(107) rotate(180)">RM-RAD</text></g>
<g id="s-TM-IAD" transform="rotate(338.4)"><circle class="m" cx="96" r="5.2"/><text class="fl" transform="translate(105) rotate(180)">TM-IAD</text></g>
</g>
<g id="panel-de" transform="translate(618 1078) rotate(-89.5)">
<g id="e-LF-PAD" transform="rotate(0)"><circle class="f" cx="82" r="5.2"/><text x="91">LF-PAD</text></g>
<g id="e-RF-ASA" transform="rotate(7.2)"><circle class="f" cx="111" r="5.2"/><text x="120">RF-ASA</text></g>
<g id="e-LF-ASA" transform="rotate(14.4)"><circle class="f" cx="116" r="5.2"/><text x="125">LF-ASA</text></g>
<g id="e-TF-ASA" transform="rotate(21.6)"><circle class="f" cx="116" r="5.2"/><text x="125">TF-ASA</text></g>
<g id="e-RF-ULB" transform="rotate(28.8)"><circle class="f" cx="116" r="5.2"/><text x="125">RF-ULB</text></g>
<g id="e-RF-ILB" transform="rotate(36)"><circle class="f" cx="116" r="5.2"/><text x="125">RF-ILB</text></g>
<g id="e-TF-ULB" transform="rotate(43.2)"><circle class="f" cx="118" r="5.2"/><text x="127">TF-ULB</text></g>
<g id="e-TF-ILB" transform="rotate(50.4)"><circle class="f" cx="117" r="5.2"/><text x="126">TF-ILB</text></g>
<g id="e-TF-RAD" transform="rotate(57.6)"><circle class="f" cx="114" r="5.2"/><text x="123">TF-RAD</text></g>
<g id="e-LF-RAD" transform="rotate(64.8)"><circle class="f" cx="124" r="5.2"/><text x="133">LF-RAD</text></g>
<g id="e-LF-IAD" transform="rotate(72)"><circle class="f" cx="124" r="5.2"/><text x="133">LF-IAD</text></g>
<g id="e-RF-RAD" transform="rotate(79.2)"><circle class="f" cx="132" r="5.2"/><text x="141">RF-RAD</text></g>
<g id="e-RF-IAD" transform="rotate(86.4)"><circle class="f" cx="131" r="5.2"/><text x="140">RF-IAD</text></g>
<g id="e-RF-PAD" transform="rotate(93.6)"><circle class="f" cx="130" r="5.2"/><text x="139">RF-PAD</text></g>
<g id="e-RF-GOM" transform="rotate(100.8)"><circle class="f" cx="132" r="5.2"/><text x="141">RF-GOM</text></g>
<g id="e-RF-MAD" transform="rotate(108)"><circle class="f" cx="132" r="5.2"/><text x="141">RF-MAD</text></g>
<g id="e-TF-GOM" transform="rotate(115.2)"><circle class="f" cx="132" r="5.2"/><text x="141">TF-GOM</text></g>
<g id="e-TF-MAD" transform="rotate(122.4)"><circle class="f" cx="127" r="5.2"/><text x="136">TF-MAD</text></g>
<g id="e-LF-ULB" transform="rotate(129.6)"><circle class="f" cx="122" r="5.2"/><text x="131">LF-ULB</text></g>
<g id="e-LF-ILB" transform="rotate(136.8)"><circle class="f" cx="123" r="5.2"/><text x="132">LF-ILB</text></g>
<g id="e-LF-GOM" transform="rotate(144)"><circle class="f" cx="126" r="5.2"/><text x="135">LF-GOM</text></g>
<g id="e-LF-MAD" transform="rotate(151.2)"><circle class="f" cx="128" r="5.2"/><text x="137">LF-MAD</text></g>
<g id="e-TF-IAD" transform="rotate(158.4)"><circle class="f" cx="127" r="5.2"/><text x="136">TF-IAD</text></g>
<g id="e-TF-PAD" transform="rotate(165.6)"><circle class="f" cx="127" r="5.2"/><text x="136">TF-PAD</text></g>
<g id="e-LM-ULB" transform="rotate(172.8)"><circle class="m" cx="84" r="5.2"/><text class="fl" transform="translate(93) rotate(180)">LM-ULB</text></g>
<g id="e-LM-ILB" transform="rotate(180)"><circle class="m" cx="85" r="5.2"/><text class="fl" transform="translate(94) rotate(180)">LM-ILB</text></g>
<g id="e-LM-ASA" transform="rotate(187.2)"><circle class="m" cx="105" r="5.2"/><text class="fl" transform="translate(114) rotate(180)">LM-ASA</text></g>
<g id="e-LM-RAD" transform="rotate(194.4)"><circle class="m" cx="112" r="5.2"/><text class="fl" transform="translate(121) rotate(180)">LM-RAD</text></g>
<g id="e-LM-MAD" transform="rotate(201.6)"><circle class="m" cx="121" r="5.2"/><text class="fl" transform="translate(130) rotate(180)">LM-MAD</text></g>
<g id="e-LM-IAD" transform="rotate(208.8)"><circle class="m" cx="126" r="5.2"/><text class="fl" transform="translate(135) rotate(180)">LM-IAD</text></g>
<g id="e-LM-GOM" transform="rotate(216)"><circle class="m" cx="132" r="5.2"/><text class="fl" transform="translate(141) rotate(180)">LM-GOM</text></g>
<g id="e-LM-PAD" transform="rotate(223.2)"><circle class="m" cx="133" r="5.2"/><text class="fl" transform="translate(142) rotate(180)">LM-PAD</text></g>
<g id="e-TM-ULB" transform="rotate(230.4)"><circle class="m" cx="113" r="5.2"/><text class="fl" transform="translate(122) rotate(180)">TM-ULB</text></g>
<g id="e-TM-ILB" transform="rotate(237.6)"><circle class="m" cx="113" r="5.2"/><text class="fl" transform="translate(122) rotate(180)">TM-ILB</text></g>
<g id="e-TM-GOM" transform="rotate(244.8)"><circle class="m" cx="115" r="5.2"/><text class="fl" transform="translate(124) rotate(180)">TM-GOM</text></g>
<g id="e-TM-MAD" transform="rotate(252)"><circle class="m" cx="116" r="5.2"/><text class="fl" transform="translate(125) rotate(180)">TM-MAD</text></g>
<g id="e-RM-ULB" transform="rotate(259.2)"><circle class="m" cx="122" r="5.2"/><text class="fl" transform="translate(131) rotate(180)">RM-ULB</text></g>
<g id="e-RM-ILB" transform="rotate(266.4)"><circle class="m" cx="123" r="5.2"/><text class="fl" transform="translate(132) rotate(180)">RM-ILB</text></g>
<g id="e-RM-ASA" transform="rotate(273.6)"><circle class="m" cx="124" r="5.2"/><text class="fl" transform="translate(133) rotate(180)">RM-ASA</text></g>
<g id="e-RM-GOM" transform="rotate(280.8)"><circle class="m" cx="131" r="5.2"/><text class="fl" transform="translate(140) rotate(180)">RM-GOM</text></g>
<g id="e-RM-RAD" transform="rotate(288)"><circle class="m" cx="131" r="5.2"/><text class="fl" transform="translate(140) rotate(180)">RM-RAD</text></g>
<g id="e-RM-IAD" transform="rotate(295.2)"><circle class="m" cx="132" r="5.2"/><text class="fl" transform="translate(141) rotate(180)">RM-IAD</text></g>
<g id="e-TM-ASA" transform="rotate(302.4)"><circle class="m" cx="121" r="5.2"/><text class="fl" transform="translate(130) rotate(180)">TM-ASA</text></g>
<g id="e-TM-RAD" transform="rotate(309.6)"><circle class="m" cx="123" r="5.2"/><text class="fl" transform="translate(132) rotate(180)">TM-RAD</text></g>
<g id="e-TM-IAD" transform="rotate(316.8)"><circle class="m" cx="122" r="5.2"/><text class="fl" transform="translate(131) rotate(180)">TM-IAD</text></g>
<g id="e-RM-MAD" transform="rotate(324)"><circle class="m" cx="107" r="5.2"/><text class="fl" transform="translate(116) rotate(180)">RM-MAD</text></g>
<g id="e-RM-PAD" transform="rotate(331.2)"><circle class="m" cx="116" r="5.2"/><text class="fl" transform="translate(125) rotate(180)">RM-PAD</text></g>
<g id="e-TM-PAD" transform="rotate(338.4)"><circle class="m" cx="116" r="5.2"/><text class="fl" transform="translate(125) rotate(180)">TM-PAD</text></g>
</g>
</g>
</svg>
